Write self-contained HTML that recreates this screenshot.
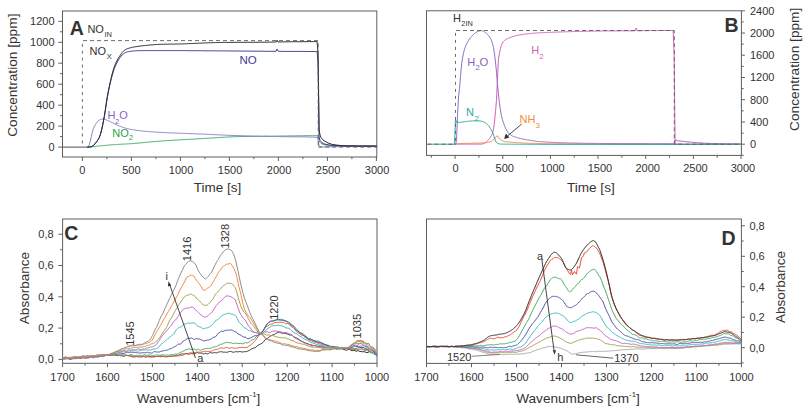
<!DOCTYPE html>
<html><head><meta charset="utf-8"><style>
html,body{margin:0;padding:0;background:#fff;}
svg{display:block;}
text{font-family:"Liberation Sans", sans-serif;}
</style></head><body>
<svg width="808" height="415" viewBox="0 0 808 415">
<rect width="808" height="415" fill="#fff"/>
<rect x="62.5" y="11" width="314.3" height="146" fill="none" stroke="#5e5e5e" stroke-width="1"/>
<line x1="58.3" y1="147.1" x2="62.5" y2="147.1" stroke="#5e5e5e" stroke-width="1" />
<line x1="60" y1="136.6" x2="62.5" y2="136.6" stroke="#5e5e5e" stroke-width="1" />
<line x1="58.3" y1="126.1" x2="62.5" y2="126.1" stroke="#5e5e5e" stroke-width="1" />
<line x1="60" y1="115.7" x2="62.5" y2="115.7" stroke="#5e5e5e" stroke-width="1" />
<line x1="58.3" y1="105.2" x2="62.5" y2="105.2" stroke="#5e5e5e" stroke-width="1" />
<line x1="60" y1="94.7" x2="62.5" y2="94.7" stroke="#5e5e5e" stroke-width="1" />
<line x1="58.3" y1="84.2" x2="62.5" y2="84.2" stroke="#5e5e5e" stroke-width="1" />
<line x1="60" y1="73.7" x2="62.5" y2="73.7" stroke="#5e5e5e" stroke-width="1" />
<line x1="58.3" y1="63.2" x2="62.5" y2="63.2" stroke="#5e5e5e" stroke-width="1" />
<line x1="60" y1="52.8" x2="62.5" y2="52.8" stroke="#5e5e5e" stroke-width="1" />
<line x1="58.3" y1="42.3" x2="62.5" y2="42.3" stroke="#5e5e5e" stroke-width="1" />
<line x1="60" y1="31.8" x2="62.5" y2="31.8" stroke="#5e5e5e" stroke-width="1" />
<line x1="58.3" y1="21.3" x2="62.5" y2="21.3" stroke="#5e5e5e" stroke-width="1" />
<text x="54.6" y="151" font-size="11" text-anchor="end" fill="#333">0</text>
<text x="54.6" y="130" font-size="11" text-anchor="end" fill="#333">200</text>
<text x="54.6" y="109.1" font-size="11" text-anchor="end" fill="#333">400</text>
<text x="54.6" y="88.1" font-size="11" text-anchor="end" fill="#333">600</text>
<text x="54.6" y="67.1" font-size="11" text-anchor="end" fill="#333">800</text>
<text x="54.6" y="46.2" font-size="11" text-anchor="end" fill="#333">1000</text>
<text x="54.6" y="25.2" font-size="11" text-anchor="end" fill="#333">1200</text>
<line x1="82.4" y1="157" x2="82.4" y2="161" stroke="#5e5e5e" stroke-width="1" />
<line x1="106.9" y1="157" x2="106.9" y2="159.2" stroke="#5e5e5e" stroke-width="1" />
<line x1="131.4" y1="157" x2="131.4" y2="161" stroke="#5e5e5e" stroke-width="1" />
<line x1="155.9" y1="157" x2="155.9" y2="159.2" stroke="#5e5e5e" stroke-width="1" />
<line x1="180.4" y1="157" x2="180.4" y2="161" stroke="#5e5e5e" stroke-width="1" />
<line x1="204.9" y1="157" x2="204.9" y2="159.2" stroke="#5e5e5e" stroke-width="1" />
<line x1="229.4" y1="157" x2="229.4" y2="161" stroke="#5e5e5e" stroke-width="1" />
<line x1="253.9" y1="157" x2="253.9" y2="159.2" stroke="#5e5e5e" stroke-width="1" />
<line x1="278.4" y1="157" x2="278.4" y2="161" stroke="#5e5e5e" stroke-width="1" />
<line x1="302.9" y1="157" x2="302.9" y2="159.2" stroke="#5e5e5e" stroke-width="1" />
<line x1="327.4" y1="157" x2="327.4" y2="161" stroke="#5e5e5e" stroke-width="1" />
<line x1="351.9" y1="157" x2="351.9" y2="159.2" stroke="#5e5e5e" stroke-width="1" />
<line x1="376.4" y1="157" x2="376.4" y2="161" stroke="#5e5e5e" stroke-width="1" />
<text x="82.4" y="173.5" font-size="11" text-anchor="middle" fill="#333">0</text>
<text x="131.4" y="173.5" font-size="11" text-anchor="middle" fill="#333">500</text>
<text x="181.1" y="173.5" font-size="11" text-anchor="middle" fill="#333">1000</text>
<text x="230.1" y="173.5" font-size="11" text-anchor="middle" fill="#333">1500</text>
<text x="279.1" y="173.5" font-size="11" text-anchor="middle" fill="#333">2000</text>
<text x="328.1" y="173.5" font-size="11" text-anchor="middle" fill="#333">2500</text>
<text x="377.1" y="173.5" font-size="11" text-anchor="middle" fill="#333">3000</text>
<path d="M87.3,147.1 L88.3,147.1 L89.3,147.1 L90.3,147 L91.3,146.9 L92.3,146.8 L93.3,146.7 L94.3,146.6 L95.3,146.5 L96.3,146.3 L97.3,146.2 L98.3,146.1 L99.3,146 L100.3,145.9 L101.3,145.8 L102.3,145.7 L103.3,145.6 L104.3,145.5 L105.3,145.4 L106.3,145.3 L107.3,145.2 L108.3,145.1 L109.3,145 L110.3,144.9 L111.3,144.8 L112.3,144.8 L113.3,144.7 L114.3,144.6 L115.3,144.6 L116.3,144.5 L117.3,144.4 L118.3,144.4 L119.3,144.3 L120.3,144.3 L121.3,144.2 L122.3,144.2 L123.3,144.1 L124.3,144.1 L125.3,144 L126.3,144 L127.3,143.9 L128.3,143.8 L129.3,143.8 L130.3,143.7 L131.3,143.7 L132.3,143.6 L133.3,143.5 L134.2,143.4 L135.2,143.3 L136.2,143.3 L137.2,143.2 L138.2,143.1 L139.2,143 L140.2,142.9 L141.2,142.8 L142.2,142.7 L143.2,142.6 L144.2,142.5 L145.2,142.4 L146.2,142.3 L147.2,142.2 L148.2,142.1 L149.2,142.1 L150.2,142 L151.2,141.9 L152.2,141.8 L153.2,141.7 L154.2,141.6 L155.2,141.5 L156.2,141.4 L157.2,141.3 L158.2,141.3 L159.2,141.2 L160.2,141.1 L161.2,141 L162.2,141 L163.2,140.9 L164.2,140.8 L165.2,140.8 L166.2,140.7 L167.2,140.6 L168.2,140.6 L169.2,140.5 L170.2,140.4 L171.2,140.4 L172.2,140.3 L173.2,140.2 L174.2,140.2 L175.2,140.1 L176.2,140.1 L177.2,140 L178.2,139.9 L179.2,139.9 L180.2,139.8 L181.2,139.8 L182.2,139.7 L183.2,139.7 L184.2,139.6 L185.2,139.5 L186.2,139.5 L187.2,139.4 L188.2,139.4 L189.2,139.3 L190.2,139.3 L191.2,139.2 L192.2,139.2 L193.2,139.1 L194.2,139 L195.2,139 L196.2,138.9 L197.2,138.9 L198.2,138.8 L199.2,138.8 L200.2,138.7 L201.2,138.6 L202.2,138.6 L203.2,138.5 L204.2,138.5 L205.2,138.4 L206.2,138.3 L207.2,138.3 L208.2,138.2 L209.2,138.2 L210.2,138.1 L211.2,138 L212.2,138 L213.2,137.9 L214.2,137.8 L215.2,137.8 L216.2,137.7 L217.2,137.6 L218.2,137.6 L219.2,137.5 L220.2,137.5 L221.2,137.4 L222.2,137.3 L223.2,137.3 L224.2,137.2 L225.2,137.2 L226.2,137.1 L227.1,137.1 L228.1,137 L229.1,137 L230.1,136.9 L231.1,136.9 L232.1,136.8 L233.1,136.8 L234.1,136.8 L235.1,136.7 L236.1,136.7 L237.1,136.7 L238.1,136.6 L239.1,136.6 L240.1,136.6 L241.1,136.6 L242.1,136.6 L243.1,136.5 L244.1,136.5 L245.1,136.5 L246.1,136.5 L247.1,136.5 L248.1,136.5 L249.1,136.4 L250.1,136.4 L251.1,136.4 L252.1,136.4 L253.1,136.4 L254.1,136.4 L255.1,136.4 L256.1,136.3 L257.1,136.3 L258.1,136.3 L259.1,136.3 L260.1,136.3 L261.1,136.3 L262.1,136.3 L263.1,136.3 L264.1,136.2 L265.1,136.2 L266.1,136.2 L267.1,136.2 L268.1,136.2 L269.1,136.2 L270.1,136.2 L271.1,136.2 L272.1,136.2 L273.1,136.2 L274.1,136.1 L275.1,136.1 L276.1,136.1 L277.1,136.1 L278.1,136.1 L279.1,136.1 L280.1,136.1 L281.1,136.1 L282.1,136 L283.1,136 L284.1,136 L285.1,136 L286.1,136 L287.1,136 L288.1,136 L289.1,135.9 L290.1,135.9 L291.1,135.9 L292.1,135.9 L293.1,135.9 L294.1,135.9 L295.1,135.9 L296.1,135.9 L297.1,135.8 L298.1,135.8 L299.1,135.8 L300.1,135.8 L301.1,135.8 L302.1,135.8 L303.1,135.8 L304.1,135.8 L305.1,135.7 L306.1,135.7 L307.1,135.7 L308.1,135.7 L309.1,135.7 L310.1,135.7 L311.1,135.7 L312.1,135.7 L313.1,135.7 L314.1,135.7 L315.1,135.7 L316.1,135.7 L317.1,135.7 L318.1,135.9 L319.1,140.4 L320,142.4 L321,143.4 L322,143.9 L323,144.3 L324,144.6 L325,144.8 L326,145 L327,145.1 L328,145.2 L329,145.3 L330,145.4 L331,145.5 L332,145.6 L333,145.7 L334,145.7 L335,145.8 L336,145.8 L337,145.8 L338,145.8 L339,145.9 L340,145.9 L341,145.9 L342,145.9 L343,145.9 L344,146 L345,146 L346,146 L347,146 L348,146 L349,146 L350,146.1 L351,146.1 L352,146.1 L353,146.1 L354,146.1 L355,146.1 L356,146.1 L357,146.2 L358,146.2 L359,146.2 L360,146.2 L361,146.2 L362,146.2 L363,146.2 L364,146.2 L365,146.2 L366,146.2 L367,146.2 L368,146.2 L369,146.2 L370,146.2 L371,146.3 L372,146.3 L373,146.3 L374,146.3 L375,146.3 L376,146.3 L377,146.3" fill="none" stroke="#44ad6c" stroke-width="1.0" stroke-linejoin="round" />
<path d="M87.3,147.1 L88.3,146.9 L89.3,144.6 L90.3,141 L91.3,136.6 L92.3,132.4 L93.3,128.8 L94.3,126.6 L95.3,124.8 L96.3,123.3 L97.3,121.8 L98.3,120.7 L99.3,120.1 L100.3,119.6 L101.3,119.3 L102.3,119 L103.3,119 L104.3,119.2 L105.3,119.5 L106.3,119.9 L107.3,120.3 L108.3,120.7 L109.3,121.2 L110.3,121.7 L111.3,122.2 L112.3,122.7 L113.3,123.3 L114.3,123.8 L115.3,124.3 L116.3,124.7 L117.3,125.1 L118.3,125.6 L119.3,126 L120.3,126.4 L121.3,126.7 L122.3,127.1 L123.3,127.5 L124.3,127.8 L125.3,128.1 L126.3,128.4 L127.3,128.7 L128.3,128.9 L129.3,129.1 L130.3,129.3 L131.3,129.5 L132.3,129.6 L133.3,129.8 L134.2,130 L135.2,130.1 L136.2,130.3 L137.2,130.4 L138.2,130.5 L139.2,130.6 L140.2,130.7 L141.2,130.9 L142.2,131 L143.2,131.1 L144.2,131.2 L145.2,131.3 L146.2,131.3 L147.2,131.4 L148.2,131.5 L149.2,131.6 L150.2,131.7 L151.2,131.8 L152.2,131.8 L153.2,131.9 L154.2,132 L155.2,132.1 L156.2,132.1 L157.2,132.2 L158.2,132.2 L159.2,132.3 L160.2,132.4 L161.2,132.4 L162.2,132.5 L163.2,132.5 L164.2,132.6 L165.2,132.6 L166.2,132.7 L167.2,132.7 L168.2,132.8 L169.2,132.8 L170.2,132.9 L171.2,132.9 L172.2,132.9 L173.2,133 L174.2,133 L175.2,133.1 L176.2,133.1 L177.2,133.1 L178.2,133.2 L179.2,133.2 L180.2,133.2 L181.2,133.3 L182.2,133.3 L183.2,133.4 L184.2,133.4 L185.2,133.4 L186.2,133.5 L187.2,133.5 L188.2,133.5 L189.2,133.6 L190.2,133.6 L191.2,133.7 L192.2,133.7 L193.2,133.7 L194.2,133.8 L195.2,133.8 L196.2,133.8 L197.2,133.9 L198.2,133.9 L199.2,134 L200.2,134 L201.2,134 L202.2,134.1 L203.2,134.1 L204.2,134.2 L205.2,134.2 L206.2,134.3 L207.2,134.3 L208.2,134.4 L209.2,134.4 L210.2,134.5 L211.2,134.5 L212.2,134.5 L213.2,134.6 L214.2,134.6 L215.2,134.7 L216.2,134.7 L217.2,134.8 L218.2,134.8 L219.2,134.9 L220.2,134.9 L221.2,135 L222.2,135 L223.2,135.1 L224.2,135.1 L225.2,135.1 L226.2,135.2 L227.1,135.2 L228.1,135.3 L229.1,135.3 L230.1,135.4 L231.1,135.4 L232.1,135.4 L233.1,135.5 L234.1,135.5 L235.1,135.5 L236.1,135.6 L237.1,135.6 L238.1,135.6 L239.1,135.7 L240.1,135.7 L241.1,135.7 L242.1,135.8 L243.1,135.8 L244.1,135.8 L245.1,135.8 L246.1,135.9 L247.1,135.9 L248.1,135.9 L249.1,136 L250.1,136 L251.1,136 L252.1,136 L253.1,136.1 L254.1,136.1 L255.1,136.1 L256.1,136.1 L257.1,136.2 L258.1,136.2 L259.1,136.2 L260.1,136.2 L261.1,136.2 L262.1,136.3 L263.1,136.3 L264.1,136.3 L265.1,136.3 L266.1,136.4 L267.1,136.4 L268.1,136.4 L269.1,136.4 L270.1,136.4 L271.1,136.5 L272.1,136.5 L273.1,136.5 L274.1,136.5 L275.1,136.5 L276.1,136.6 L277.1,136.6 L278.1,136.6 L279.1,136.6 L280.1,136.6 L281.1,136.7 L282.1,136.7 L283.1,136.7 L284.1,136.7 L285.1,136.7 L286.1,136.7 L287.1,136.7 L288.1,136.7 L289.1,136.8 L290.1,136.8 L291.1,136.8 L292.1,136.8 L293.1,136.8 L294.1,136.8 L295.1,136.8 L296.1,136.8 L297.1,136.8 L298.1,136.8 L299.1,136.8 L300.1,136.8 L301.1,136.8 L302.1,136.9 L303.1,136.9 L304.1,136.9 L305.1,136.9 L306.1,136.9 L307.1,137 L308.1,137 L309.1,137 L310.1,137 L311.1,137.1 L312.1,137.1 L313.1,137.1 L314.1,137.2 L315.1,137.2 L316.1,137.3 L317.1,137.3 L318.1,139.8 L319.1,146.1 L320,146.6 L321,146.8 L322,146.9 L323,146.9 L324,146.9 L325,146.9 L326,146.8 L327,146.8 L328,146.8 L329,146.8 L330,146.7 L331,146.7 L332,146.7 L333,146.7 L334,146.7 L335,146.7 L336,146.6 L337,146.6 L338,146.6 L339,146.6 L340,146.6 L341,146.6 L342,146.5 L343,146.5 L344,146.5 L345,146.5 L346,146.5 L347,146.5 L348,146.5 L349,146.5 L350,146.4 L351,146.4 L352,146.4 L353,146.4 L354,146.4 L355,146.4 L356,146.4 L357,146.4 L358,146.4 L359,146.4 L360,146.4 L361,146.3 L362,146.3 L363,146.3 L364,146.3 L365,146.3 L366,146.3 L367,146.3 L368,146.3 L369,146.3 L370,146.3 L371,146.3 L372,146.3 L373,146.3 L374,146.3 L375,146.3 L376,146.3 L377,146.3" fill="none" stroke="#9680c4" stroke-width="1.0" stroke-linejoin="round" />
<path d="M87.3,147.1 L88.3,147.1 L89.3,147 L90.3,146.8 L91.3,146.6 L92.3,146.2 L93.3,145.6 L94.3,144.5 L95.3,143.3 L96.3,142.1 L97.3,140.8 L98.3,139.3 L99.3,137.4 L100.3,134.8 L101.3,131.1 L102.3,126.8 L103.3,121.9 L104.3,116.4 L105.3,110.4 L106.3,103.6 L107.3,97.7 L108.3,92.2 L109.3,87.2 L110.3,82.8 L111.3,78.7 L112.3,74.9 L113.3,71.5 L114.3,68.5 L115.3,66.1 L116.3,63.9 L117.3,62 L118.3,60.2 L119.3,58.6 L120.3,57.2 L121.3,56 L122.3,54.9 L123.3,53.9 L124.3,53.2 L125.3,52.7 L126.3,52.3 L127.3,51.9 L128.3,51.7 L129.3,51.5 L130.3,51.3 L131.3,51.2 L132.3,51.1 L133.3,51 L134.2,50.9 L135.2,50.8 L136.2,50.8 L137.2,50.7 L138.2,50.7 L139.2,50.7 L140.2,50.7 L141.2,50.6 L142.2,50.6 L143.2,50.6 L144.2,50.6 L145.2,50.6 L146.2,50.6 L147.2,50.6 L148.2,50.6 L149.2,50.6 L150.2,50.6 L151.2,50.6 L152.2,50.6 L153.2,50.6 L154.2,50.6 L155.2,50.6 L156.2,50.6 L157.2,50.6 L158.2,50.6 L159.2,50.6 L160.2,50.6 L161.2,50.6 L162.2,50.6 L163.2,50.6 L164.2,50.6 L165.2,50.6 L166.2,50.6 L167.2,50.6 L168.2,50.6 L169.2,50.6 L170.2,50.6 L171.2,50.6 L172.2,50.6 L173.2,50.6 L174.2,50.6 L175.2,50.6 L176.2,50.6 L177.2,50.6 L178.2,50.6 L179.2,50.6 L180.2,50.6 L181.2,50.6 L182.2,50.6 L183.2,50.6 L184.2,50.6 L185.2,50.6 L186.2,50.6 L187.2,50.6 L188.2,50.7 L189.2,50.7 L190.2,50.7 L191.2,50.7 L192.2,50.7 L193.2,50.7 L194.2,50.7 L195.2,50.7 L196.2,50.7 L197.2,50.7 L198.2,50.7 L199.2,50.7 L200.2,50.7 L201.2,50.7 L202.2,50.7 L203.2,50.8 L204.2,50.8 L205.2,50.8 L206.2,50.8 L207.2,50.8 L208.2,50.8 L209.2,50.8 L210.2,50.8 L211.2,50.8 L212.2,50.8 L213.2,50.8 L214.2,50.8 L215.2,50.8 L216.2,50.8 L217.2,50.9 L218.2,50.9 L219.2,50.9 L220.2,50.9 L221.2,50.9 L222.2,50.9 L223.2,50.9 L224.2,50.9 L225.2,50.9 L226.2,50.9 L227.1,50.9 L228.1,50.9 L229.1,50.9 L230.1,50.9 L231.1,51 L232.1,51 L233.1,51 L234.1,51 L235.1,51 L236.1,51 L237.1,51 L238.1,51 L239.1,51 L240.1,51 L241.1,51.1 L242.1,51.1 L243.1,51.1 L244.1,51.1 L245.1,51.1 L246.1,51.1 L247.1,51.1 L248.1,51.1 L249.1,51.1 L250.1,51.1 L251.1,51.1 L252.1,51.2 L253.1,51.2 L254.1,51.2 L255.1,51.2 L256.1,51.2 L257.1,51.2 L258.1,51.2 L259.1,51.2 L260.1,51.2 L261.1,51.2 L262.1,51.2 L263.1,51.2 L264.1,51.2 L265.1,51.3 L266.1,51.3 L267.1,51.3 L268.1,51.3 L269.1,51.3 L270.1,51.3 L271.1,51.3 L272.1,51.3 L273.1,51.3 L274.1,51.3 L275.1,51.3 L276.1,51.3 L277.1,49.1 L278.1,50.9 L279.1,51.3 L280.1,51.3 L281.1,51.3 L282.1,51.4 L283.1,51.4 L284.1,51.4 L285.1,51.4 L286.1,51.4 L287.1,51.4 L288.1,51.4 L289.1,51.4 L290.1,51.4 L291.1,51.4 L292.1,51.4 L293.1,51.4 L294.1,51.4 L295.1,51.4 L296.1,51.4 L297.1,51.4 L298.1,51.4 L299.1,51.4 L300.1,51.4 L301.1,51.4 L302.1,51.4 L303.1,51.4 L304.1,51.4 L305.1,51.4 L306.1,51.5 L307.1,51.5 L308.1,51.5 L309.1,51.5 L310.1,51.5 L311.1,51.5 L312.1,51.5 L313.1,51.5 L314.1,51.5 L315.1,51.5 L316.1,51.6 L317.1,51.6 L318.1,64.1 L319.1,137 L320,140.4 L321,141.8 L322,142.7 L323,143.3 L324,143.8 L325,144.2 L326,144.4 L327,144.6 L328,144.8 L329,144.9 L330,145.1 L331,145.2 L332,145.3 L333,145.3 L334,145.4 L335,145.5 L336,145.5 L337,145.6 L338,145.6 L339,145.7 L340,145.7 L341,145.8 L342,145.8 L343,145.8 L344,145.9 L345,145.9 L346,145.9 L347,145.9 L348,146 L349,146 L350,146 L351,146 L352,146 L353,146 L354,146 L355,146 L356,146 L357,146.1 L358,146.1 L359,146.1 L360,146.1 L361,146.1 L362,146.1 L363,146.1 L364,146.1 L365,146.1 L366,146.1 L367,146.1 L368,146.1 L369,146.1 L370,146.1 L371,146.1 L372,146.1 L373,146.2 L374,146.2 L375,146.2 L376,146.2 L377,146.2" fill="none" stroke="#3c3c98" stroke-width="1.0" stroke-linejoin="round" />
<path d="M87.3,147.1 L88.3,147.1 L89.3,147 L90.3,146.8 L91.3,146.6 L92.3,146.2 L93.3,145.6 L94.3,144.5 L95.3,143.3 L96.3,142.1 L97.3,140.8 L98.3,139.3 L99.3,137.4 L100.3,134.8 L101.3,131.1 L102.3,126.8 L103.3,122 L104.3,116.5 L105.3,110.2 L106.3,102.9 L107.3,96.7 L108.3,91.3 L109.3,86.4 L110.3,81.9 L111.3,77.5 L112.3,73.5 L113.3,69.9 L114.3,66.9 L115.3,64.4 L116.3,62.2 L117.3,60.2 L118.3,58.3 L119.3,56.7 L120.3,55.2 L121.3,53.8 L122.3,52.4 L123.3,51.3 L124.3,50.3 L125.3,49.7 L126.3,49.2 L127.3,48.7 L128.3,48.4 L129.3,48.1 L130.3,47.8 L131.3,47.6 L132.3,47.3 L133.3,47.1 L134.2,47 L135.2,46.8 L136.2,46.6 L137.2,46.5 L138.2,46.3 L139.2,46.2 L140.2,46.1 L141.2,45.9 L142.2,45.8 L143.2,45.7 L144.2,45.6 L145.2,45.5 L146.2,45.4 L147.2,45.3 L148.2,45.2 L149.2,45.1 L150.2,45 L151.2,44.9 L152.2,44.9 L153.2,44.8 L154.2,44.7 L155.2,44.6 L156.2,44.5 L157.2,44.5 L158.2,44.4 L159.2,44.4 L160.2,44.3 L161.2,44.3 L162.2,44.3 L163.2,44.3 L164.2,44.2 L165.2,44.2 L166.2,44.2 L167.2,44.2 L168.2,44.2 L169.2,44.1 L170.2,44.1 L171.2,44.1 L172.2,44.1 L173.2,44.1 L174.2,44.1 L175.2,44 L176.2,44 L177.2,44 L178.2,44 L179.2,44 L180.2,43.9 L181.2,43.9 L182.2,43.9 L183.2,43.9 L184.2,43.8 L185.2,43.8 L186.2,43.8 L187.2,43.7 L188.2,43.7 L189.2,43.6 L190.2,43.6 L191.2,43.6 L192.2,43.5 L193.2,43.5 L194.2,43.4 L195.2,43.4 L196.2,43.3 L197.2,43.3 L198.2,43.2 L199.2,43.2 L200.2,43.2 L201.2,43.1 L202.2,43.1 L203.2,43 L204.2,43 L205.2,42.9 L206.2,42.9 L207.2,42.9 L208.2,42.8 L209.2,42.8 L210.2,42.7 L211.2,42.7 L212.2,42.7 L213.2,42.6 L214.2,42.6 L215.2,42.6 L216.2,42.6 L217.2,42.5 L218.2,42.5 L219.2,42.5 L220.2,42.5 L221.2,42.5 L222.2,42.4 L223.2,42.4 L224.2,42.4 L225.2,42.4 L226.2,42.4 L227.1,42.4 L228.1,42.4 L229.1,42.4 L230.1,42.4 L231.1,42.4 L232.1,42.4 L233.1,42.4 L234.1,42.3 L235.1,42.3 L236.1,42.3 L237.1,42.3 L238.1,42.3 L239.1,42.3 L240.1,42.3 L241.1,42.3 L242.1,42.3 L243.1,42.3 L244.1,42.3 L245.1,42.3 L246.1,42.3 L247.1,42.3 L248.1,42.3 L249.1,42.3 L250.1,42.3 L251.1,42.3 L252.1,42.3 L253.1,42.3 L254.1,42.3 L255.1,42.3 L256.1,42.3 L257.1,42.3 L258.1,42.3 L259.1,42.2 L260.1,42.2 L261.1,42.2 L262.1,42.2 L263.1,42.2 L264.1,42.2 L265.1,42.2 L266.1,42.2 L267.1,42.2 L268.1,42.1 L269.1,42.1 L270.1,42.1 L271.1,42.1 L272.1,42.1 L273.1,42 L274.1,42 L275.1,42 L276.1,42 L277.1,40.2 L278.1,42 L279.1,41.9 L280.1,41.9 L281.1,41.9 L282.1,41.9 L283.1,41.9 L284.1,41.8 L285.1,41.8 L286.1,41.8 L287.1,41.8 L288.1,41.8 L289.1,41.8 L290.1,41.8 L291.1,41.7 L292.1,41.7 L293.1,41.7 L294.1,41.7 L295.1,41.7 L296.1,41.7 L297.1,41.7 L298.1,41.7 L299.1,41.7 L300.1,41.7 L301.1,41.7 L302.1,41.7 L303.1,41.7 L304.1,41.7 L305.1,41.7 L306.1,41.7 L307.1,41.6 L308.1,41.6 L309.1,41.6 L310.1,41.6 L311.1,41.6 L312.1,41.6 L313.1,41.6 L314.1,41.6 L315.1,41.6 L316.1,41.6 L317.1,41.6 L318.1,53.9 L319.1,129.3 L320,135 L321,137.5 L322,138.9 L323,139.9 L324,140.7 L325,141.3 L326,141.9 L327,142.4 L328,142.9 L329,143.3 L330,143.7 L331,144 L332,144.3 L333,144.5 L334,144.7 L335,144.8 L336,145 L337,145.1 L338,145.2 L339,145.3 L340,145.5 L341,145.5 L342,145.6 L343,145.7 L344,145.8 L345,145.8 L346,145.8 L347,145.8 L348,145.9 L349,145.9 L350,145.9 L351,145.9 L352,145.9 L353,145.9 L354,145.9 L355,145.9 L356,146 L357,146 L358,146 L359,146 L360,146 L361,146 L362,146 L363,146 L364,146 L365,146 L366,146 L367,146 L368,146 L369,146 L370,146 L371,146 L372,146 L373,146 L374,146 L375,146.1 L376,146.1 L377,146.1" fill="none" stroke="#2c2c2c" stroke-width="1.0" stroke-linejoin="round" />
<path d="M83,40.6 L318.2,40.6 L318.2,147.1" fill="none" stroke="#5c5c5c" stroke-width="0.9" stroke-linejoin="round" stroke-dasharray="4 3"/>
<path d="M82.4,43.8 L82.4,147.1" fill="none" stroke="#5c5c5c" stroke-width="0.9" stroke-linejoin="round" stroke-dasharray="3 3.9"/>
<path d="M318.2,147.1 L376.8,147.1" fill="none" stroke="#5c5c5c" stroke-width="0.9" stroke-linejoin="round" stroke-dasharray="4 3"/>
<path d="M62.5,147.1 L87.5,147.1" fill="none" stroke="#505050" stroke-width="1.0" stroke-linejoin="round" />
<text x="69.8" y="35.2" font-size="19.5" text-anchor="start" fill="#333" font-weight="bold">A</text>
<text x="87.4" y="32.8" font-size="11" text-anchor="start" fill="#333">NO</text>
<text x="104.5" y="37.1" font-size="7.5" text-anchor="start" fill="#333">IN</text>
<text x="89.6" y="54.7" font-size="11" text-anchor="start" fill="#333">NO</text>
<text x="106.8" y="58.6" font-size="7.6" text-anchor="start" fill="#333">X</text>
<text x="239.4" y="64" font-size="11.5" text-anchor="start" fill="#3c3c98">NO</text>
<text x="107.6" y="118.7" font-size="11" text-anchor="start" fill="#8a64c0">H</text>
<text x="114.9" y="123.5" font-size="7.8" text-anchor="start" fill="#8a64c0">2</text>
<text x="119.2" y="118.7" font-size="11" text-anchor="start" fill="#8a64c0">O</text>
<text x="112.2" y="136.8" font-size="11" text-anchor="start" fill="#30a050">NO</text>
<text x="128.8" y="140.4" font-size="7.8" text-anchor="start" fill="#30a050">2</text>
<text x="217.6" y="192" font-size="13.5" text-anchor="middle" fill="#333">Time [s]</text>
<text x="16.7" y="75.2" font-size="13.7" text-anchor="middle" fill="#333" transform="rotate(-90 16.7 75.2)">Concentration [ppm]</text>
<rect x="426.5" y="10.8" width="314.9" height="144.6" fill="none" stroke="#5e5e5e" stroke-width="1"/>
<line x1="741.4" y1="155.3" x2="743.7" y2="155.3" stroke="#5e5e5e" stroke-width="1" />
<line x1="741.4" y1="144.2" x2="744.9" y2="144.2" stroke="#5e5e5e" stroke-width="1" />
<line x1="741.4" y1="133.1" x2="743.7" y2="133.1" stroke="#5e5e5e" stroke-width="1" />
<line x1="741.4" y1="122" x2="744.9" y2="122" stroke="#5e5e5e" stroke-width="1" />
<line x1="741.4" y1="110.8" x2="743.7" y2="110.8" stroke="#5e5e5e" stroke-width="1" />
<line x1="741.4" y1="99.7" x2="744.9" y2="99.7" stroke="#5e5e5e" stroke-width="1" />
<line x1="741.4" y1="88.6" x2="743.7" y2="88.6" stroke="#5e5e5e" stroke-width="1" />
<line x1="741.4" y1="77.5" x2="744.9" y2="77.5" stroke="#5e5e5e" stroke-width="1" />
<line x1="741.4" y1="66.4" x2="743.7" y2="66.4" stroke="#5e5e5e" stroke-width="1" />
<line x1="741.4" y1="55.2" x2="744.9" y2="55.2" stroke="#5e5e5e" stroke-width="1" />
<line x1="741.4" y1="44.1" x2="743.7" y2="44.1" stroke="#5e5e5e" stroke-width="1" />
<line x1="741.4" y1="33" x2="744.9" y2="33" stroke="#5e5e5e" stroke-width="1" />
<line x1="741.4" y1="21.9" x2="743.7" y2="21.9" stroke="#5e5e5e" stroke-width="1" />
<line x1="741.4" y1="10.8" x2="744.9" y2="10.8" stroke="#5e5e5e" stroke-width="1" />
<text x="749.9" y="148.1" font-size="11" text-anchor="start" fill="#333">0</text>
<text x="749.9" y="125.9" font-size="11" text-anchor="start" fill="#333">400</text>
<text x="749.9" y="103.6" font-size="11" text-anchor="start" fill="#333">800</text>
<text x="749.9" y="81.4" font-size="11" text-anchor="start" fill="#333">1200</text>
<text x="749.9" y="59.1" font-size="11" text-anchor="start" fill="#333">1600</text>
<text x="749.9" y="36.9" font-size="11" text-anchor="start" fill="#333">2000</text>
<text x="749.9" y="14.7" font-size="11" text-anchor="start" fill="#333">2400</text>
<line x1="431.3" y1="155.4" x2="431.3" y2="157.7" stroke="#5e5e5e" stroke-width="1" />
<line x1="455.1" y1="155.4" x2="455.1" y2="158.9" stroke="#5e5e5e" stroke-width="1" />
<line x1="478.9" y1="155.4" x2="478.9" y2="157.7" stroke="#5e5e5e" stroke-width="1" />
<line x1="502.8" y1="155.4" x2="502.8" y2="158.9" stroke="#5e5e5e" stroke-width="1" />
<line x1="526.6" y1="155.4" x2="526.6" y2="157.7" stroke="#5e5e5e" stroke-width="1" />
<line x1="550.4" y1="155.4" x2="550.4" y2="158.9" stroke="#5e5e5e" stroke-width="1" />
<line x1="574.2" y1="155.4" x2="574.2" y2="157.7" stroke="#5e5e5e" stroke-width="1" />
<line x1="598" y1="155.4" x2="598" y2="158.9" stroke="#5e5e5e" stroke-width="1" />
<line x1="621.9" y1="155.4" x2="621.9" y2="157.7" stroke="#5e5e5e" stroke-width="1" />
<line x1="645.7" y1="155.4" x2="645.7" y2="158.9" stroke="#5e5e5e" stroke-width="1" />
<line x1="669.5" y1="155.4" x2="669.5" y2="157.7" stroke="#5e5e5e" stroke-width="1" />
<line x1="693.4" y1="155.4" x2="693.4" y2="158.9" stroke="#5e5e5e" stroke-width="1" />
<line x1="717.2" y1="155.4" x2="717.2" y2="157.7" stroke="#5e5e5e" stroke-width="1" />
<line x1="741" y1="155.4" x2="741" y2="158.9" stroke="#5e5e5e" stroke-width="1" />
<text x="455.5" y="172.4" font-size="11" text-anchor="middle" fill="#333">0</text>
<text x="504.8" y="172.4" font-size="11" text-anchor="middle" fill="#333">500</text>
<text x="552.4" y="172.4" font-size="11" text-anchor="middle" fill="#333">1000</text>
<text x="600" y="172.4" font-size="11" text-anchor="middle" fill="#333">1500</text>
<text x="647.7" y="172.4" font-size="11" text-anchor="middle" fill="#333">2000</text>
<text x="695.4" y="172.4" font-size="11" text-anchor="middle" fill="#333">2500</text>
<text x="743" y="172.4" font-size="11" text-anchor="middle" fill="#333">3000</text>
<path d="M454.5,144.2 L455.5,144 L456.5,143.7 L457.5,143.6 L458.5,143.6 L459.5,143.5 L460.5,143.5 L461.5,143.5 L462.5,143.5 L463.5,143.4 L464.5,143.4 L465.5,143.4 L466.5,143.4 L467.5,143.4 L468.5,143.3 L469.5,143.3 L470.5,143.3 L471.5,143.3 L472.5,143.2 L473.5,143.2 L474.5,143.2 L475.5,143.2 L476.5,143.1 L477.5,143.1 L478.5,143.1 L479.5,143 L480.5,143 L481.5,142.9 L482.5,142.9 L483.5,142.8 L484.5,142.7 L485.5,142.7 L486.5,142.5 L487.5,142.4 L488.5,142.2 L489.5,141.9 L490.5,141.7 L491.5,141.4 L492.5,140.7 L493.5,139.8 L494.5,138.8 L495.5,137.7 L496.5,136.4 L497.4,135.8 L498.4,137.1 L499.4,138.7 L500.4,139.7 L501.4,140.4 L502.4,140.8 L503.4,141.2 L504.4,141.5 L505.4,141.7 L506.4,141.8 L507.4,141.9 L508.4,142 L509.4,142.1 L510.4,142.2 L511.4,142.2 L512.4,142.3 L513.4,142.4 L514.4,142.4 L515.4,142.5 L516.4,142.6 L517.4,142.7 L518.4,142.7 L519.4,142.8 L520.4,142.9 L521.4,142.9 L522.4,143 L523.4,143 L524.4,143.1 L525.4,143.1 L526.4,143.2 L527.4,143.2 L528.4,143.3 L529.4,143.3 L530.4,143.3 L531.4,143.3 L532.4,143.4 L533.4,143.4 L534.4,143.4 L535.4,143.4 L536.4,143.5 L537.4,143.5 L538.4,143.5 L539.4,143.5 L540.4,143.5 L541.4,143.5 L542.4,143.6 L543.4,143.6 L544.4,143.6 L545.4,143.6 L546.4,143.6 L547.4,143.6 L548.4,143.6 L549.4,143.6 L550.4,143.6 L551.3,143.7 L552.3,143.7 L553.3,143.7 L554.3,143.7 L555.3,143.7 L556.3,143.7 L557.3,143.7 L558.3,143.7 L559.3,143.7 L560.3,143.7 L561.3,143.7 L562.3,143.7 L563.3,143.7 L564.3,143.8 L565.3,143.8 L566.3,143.8 L567.3,143.8 L568.3,143.8 L569.3,143.8 L570.3,143.8 L571.3,143.8 L572.3,143.8 L573.3,143.8 L574.3,143.8 L575.3,143.8 L576.3,143.8 L577.3,143.8 L578.3,143.8 L579.3,143.8 L580.3,143.8 L581.3,143.8 L582.3,143.9 L583.3,143.9 L584.3,143.9 L585.3,143.9 L586.3,143.9 L587.3,143.9 L588.3,143.9 L589.3,143.9 L590.3,143.9 L591.3,143.9 L592.3,143.9 L593.3,143.9 L594.3,143.9 L595.3,143.9 L596.3,143.9 L597.3,143.9 L598.3,143.9 L599.3,143.9 L600.3,143.9 L601.3,143.9 L602.3,143.9 L603.3,143.9 L604.3,144 L605.3,144 L606.2,144 L607.2,144 L608.2,144 L609.2,144 L610.2,144 L611.2,144 L612.2,144 L613.2,144 L614.2,144 L615.2,144 L616.2,144 L617.2,144 L618.2,144 L619.2,144 L620.2,144 L621.2,144 L622.2,144 L623.2,144 L624.2,144 L625.2,144.1 L626.2,144.1 L627.2,144.1 L628.2,144.1 L629.2,144.1 L630.2,144.1 L631.2,144.1 L632.2,144.1 L633.2,144.1 L634.2,144.1 L635.2,144.1 L636.2,144.1 L637.2,144.1 L638.2,144.1 L639.2,144.1 L640.2,144.1 L641.2,144.1 L642.2,144.1 L643.2,144.1 L644.2,144.1 L645.2,144.1 L646.2,144.1 L647.2,144.1 L648.2,144.2 L649.2,144.2 L650.2,144.2 L651.2,144.2 L652.2,144.2 L653.2,144.2 L654.2,144.2 L655.2,144.2 L656.2,144.2 L657.2,144.2 L658.2,144.2 L659.2,144.2 L660.1,144.2 L661.1,144.2 L662.1,144.2 L663.1,144.2 L664.1,144.2 L665.1,144.2 L666.1,144.2 L667.1,144.2 L668.1,144.2 L669.1,144.2 L670.1,144.2 L671.1,144.2 L672.1,144.2 L673.1,144.2 L674.1,144.2 L675.1,144.2 L676.1,144.2 L677.1,144.2 L678.1,144.2 L679.1,144.2 L680.1,144.2 L681.1,144.2 L682.1,144.2 L683.1,144.2 L684.1,144.2 L685.1,144.2 L686.1,144.2 L687.1,144.2 L688.1,144.2 L689.1,144.2 L690.1,144.2 L691.1,144.2 L692.1,144.2 L693.1,144.2 L694.1,144.2 L695.1,144.2 L696.1,144.2 L697.1,144.2 L698.1,144.2 L699.1,144.2 L700.1,144.2 L701.1,144.2 L702.1,144.2 L703.1,144.2 L704.1,144.2 L705.1,144.2 L706.1,144.2 L707.1,144.2 L708.1,144.2 L709.1,144.2 L710.1,144.2 L711.1,144.2 L712.1,144.2 L713.1,144.2 L714,144.2 L715,144.2 L716,144.2 L717,144.2 L718,144.2 L719,144.2 L720,144.2 L721,144.2 L722,144.2 L723,144.2 L724,144.2 L725,144.2 L726,144.2 L727,144.2 L728,144.2 L729,144.2 L730,144.2 L731,144.2 L732,144.2 L733,144.2 L734,144.2 L735,144.2 L736,144.2 L737,144.2 L738,144.2 L739,144.2 L740,144.2 L741,144.2" fill="none" stroke="#f28c3c" stroke-width="1.0" stroke-linejoin="round" />
<path d="M454.5,144.2 L455.5,144.2 L456.5,144.2 L457.5,144.2 L458.5,144.2 L459.5,144.2 L460.5,144.2 L461.5,144.2 L462.5,144.2 L463.5,144.2 L464.5,144.2 L465.5,144.2 L466.5,144.2 L467.5,144.2 L468.5,144.2 L469.5,144.2 L470.5,144.2 L471.5,144.2 L472.5,144.2 L473.5,144.2 L474.5,144.2 L475.5,144.2 L476.5,144.2 L477.5,144.2 L478.5,144.2 L479.5,144.2 L480.5,144.2 L481.5,144.1 L482.5,143.9 L483.5,143.8 L484.5,143.4 L485.5,142.6 L486.5,141.7 L487.5,140.8 L488.5,139.8 L489.5,138.6 L490.5,137.2 L491.5,135.5 L492.5,133.2 L493.5,129.4 L494.5,121.6 L495.5,111.8 L496.5,99.8 L497.4,80.6 L498.4,59.3 L499.4,53.7 L500.4,48.6 L501.4,45.4 L502.4,43.2 L503.4,41.6 L504.4,40.6 L505.4,39.8 L506.4,39.2 L507.4,38.7 L508.4,38.2 L509.4,37.8 L510.4,37.4 L511.4,37.1 L512.4,36.7 L513.4,36.4 L514.4,36.1 L515.4,35.9 L516.4,35.6 L517.4,35.4 L518.4,35.2 L519.4,35 L520.4,34.8 L521.4,34.7 L522.4,34.5 L523.4,34.3 L524.4,34.2 L525.4,34.1 L526.4,33.9 L527.4,33.8 L528.4,33.7 L529.4,33.6 L530.4,33.5 L531.4,33.4 L532.4,33.3 L533.4,33.2 L534.4,33.1 L535.4,33 L536.4,33 L537.4,32.9 L538.4,32.9 L539.4,32.8 L540.4,32.7 L541.4,32.7 L542.4,32.7 L543.4,32.6 L544.4,32.6 L545.4,32.5 L546.4,32.5 L547.4,32.4 L548.4,32.4 L549.4,32.4 L550.4,32.3 L551.3,32.3 L552.3,32.3 L553.3,32.2 L554.3,32.2 L555.3,32.1 L556.3,32.1 L557.3,32.1 L558.3,32 L559.3,32 L560.3,32 L561.3,31.9 L562.3,31.9 L563.3,31.9 L564.3,31.8 L565.3,31.8 L566.3,31.8 L567.3,31.7 L568.3,31.7 L569.3,31.7 L570.3,31.6 L571.3,31.6 L572.3,31.6 L573.3,31.6 L574.3,31.5 L575.3,31.5 L576.3,31.5 L577.3,31.5 L578.3,31.4 L579.3,31.4 L580.3,31.4 L581.3,31.4 L582.3,31.3 L583.3,31.3 L584.3,31.3 L585.3,31.3 L586.3,31.2 L587.3,31.2 L588.3,31.2 L589.3,31.2 L590.3,31.2 L591.3,31.1 L592.3,31.1 L593.3,31.1 L594.3,31.1 L595.3,31.1 L596.3,31 L597.3,31 L598.3,31 L599.3,31 L600.3,31 L601.3,31 L602.3,30.9 L603.3,30.9 L604.3,30.9 L605.3,30.9 L606.2,30.9 L607.2,30.9 L608.2,30.9 L609.2,30.9 L610.2,30.9 L611.2,30.9 L612.2,30.9 L613.2,30.9 L614.2,30.9 L615.2,30.9 L616.2,30.9 L617.2,30.9 L618.2,30.9 L619.2,30.9 L620.2,30.9 L621.2,30.8 L622.2,30.8 L623.2,30.8 L624.2,30.8 L625.2,30.8 L626.2,30.8 L627.2,30.8 L628.2,30.8 L629.2,30.8 L630.2,30.8 L631.2,30.8 L632.2,30.8 L633.2,30.8 L634.2,30.8 L635.2,30.8 L636.2,28 L637.2,30.8 L638.2,30.8 L639.2,30.8 L640.2,30.8 L641.2,30.7 L642.2,30.7 L643.2,30.7 L644.2,30.7 L645.2,30.7 L646.2,30.7 L647.2,30.7 L648.2,30.6 L649.2,30.6 L650.2,30.6 L651.2,30.6 L652.2,30.6 L653.2,30.6 L654.2,30.6 L655.2,30.6 L656.2,30.6 L657.2,30.6 L658.2,30.6 L659.2,30.6 L660.1,30.5 L661.1,30.5 L662.1,30.5 L663.1,30.5 L664.1,30.5 L665.1,30.5 L666.1,30.5 L667.1,30.5 L668.1,30.5 L669.1,30.5 L670.1,30.5 L671.1,30.5 L672.1,30.5 L673.1,30.5 L674.1,53.1 L675.1,143.1 L676.1,143.9 L677.1,144 L678.1,144 L679.1,144 L680.1,144.1 L681.1,144.1 L682.1,144.1 L683.1,144.1 L684.1,144.1 L685.1,144.2 L686.1,144.2 L687.1,144.2 L688.1,144.2 L689.1,144.2 L690.1,144.2 L691.1,144.2 L692.1,144.2 L693.1,144.2 L694.1,144.2 L695.1,144.2 L696.1,144.2 L697.1,144.2 L698.1,144.2 L699.1,144.2 L700.1,144.2 L701.1,144.2 L702.1,144.2 L703.1,144.2 L704.1,144.2 L705.1,144.2 L706.1,144.2 L707.1,144.2 L708.1,144.2 L709.1,144.2 L710.1,144.2 L711.1,144.2 L712.1,144.2 L713.1,144.2 L714,144.2 L715,144.2 L716,144.2 L717,144.2 L718,144.2 L719,144.2 L720,144.2 L721,144.2 L722,144.2 L723,144.2 L724,144.2 L725,144.2 L726,144.2 L727,144.2 L728,144.2 L729,144.2 L730,144.2 L731,144.2 L732,144.2 L733,144.2 L734,144.2 L735,144.2 L736,144.2 L737,144.2 L738,144.2 L739,144.2 L740,144.2 L741,144.2" fill="none" stroke="#d262b6" stroke-width="1.0" stroke-linejoin="round" />
<path d="M454.5,144.2 L455.5,144.8 L456.5,140.3 L457.5,116.8 L458.5,97.1 L459.5,88.6 L460.5,76.6 L461.5,65 L462.5,58.3 L463.5,53.2 L464.5,49.3 L465.5,46.5 L466.5,44.2 L467.5,42.2 L468.5,40.5 L469.5,39 L470.5,37.7 L471.5,36.6 L472.5,35.5 L473.5,34.4 L474.5,33.5 L475.5,32.8 L476.5,32.1 L477.5,31.7 L478.5,31.3 L479.5,30.9 L480.5,30.7 L481.5,30.6 L482.5,30.8 L483.5,31.3 L484.5,31.9 L485.5,32.7 L486.5,33.5 L487.5,34.4 L488.5,35.5 L489.5,36.8 L490.5,38.5 L491.5,40.6 L492.5,43.5 L493.5,47.4 L494.5,53.9 L495.5,62 L496.5,72.3 L497.4,82.9 L498.4,93.5 L499.4,102.8 L500.4,109.9 L501.4,115.6 L502.4,119.5 L503.4,122.7 L504.4,125.3 L505.4,127.7 L506.4,129.8 L507.4,131.6 L508.4,132.9 L509.4,133.9 L510.4,134.8 L511.4,135.4 L512.4,136 L513.4,136.4 L514.4,136.7 L515.4,137.1 L516.4,137.4 L517.4,137.6 L518.4,137.9 L519.4,138.2 L520.4,138.5 L521.4,138.7 L522.4,139 L523.4,139.2 L524.4,139.4 L525.4,139.6 L526.4,139.7 L527.4,139.9 L528.4,140.1 L529.4,140.2 L530.4,140.4 L531.4,140.5 L532.4,140.7 L533.4,140.8 L534.4,141 L535.4,141.1 L536.4,141.2 L537.4,141.4 L538.4,141.5 L539.4,141.6 L540.4,141.7 L541.4,141.7 L542.4,141.8 L543.4,141.9 L544.4,141.9 L545.4,142 L546.4,142.1 L547.4,142.1 L548.4,142.2 L549.4,142.2 L550.4,142.3 L551.3,142.3 L552.3,142.4 L553.3,142.4 L554.3,142.5 L555.3,142.5 L556.3,142.6 L557.3,142.6 L558.3,142.6 L559.3,142.7 L560.3,142.7 L561.3,142.7 L562.3,142.8 L563.3,142.8 L564.3,142.8 L565.3,142.9 L566.3,142.9 L567.3,142.9 L568.3,143 L569.3,143 L570.3,143 L571.3,143 L572.3,143 L573.3,143.1 L574.3,143.1 L575.3,143.1 L576.3,143.1 L577.3,143.1 L578.3,143.2 L579.3,143.2 L580.3,143.2 L581.3,143.2 L582.3,143.2 L583.3,143.3 L584.3,143.3 L585.3,143.3 L586.3,143.3 L587.3,143.3 L588.3,143.3 L589.3,143.4 L590.3,143.4 L591.3,143.4 L592.3,143.4 L593.3,143.4 L594.3,143.4 L595.3,143.4 L596.3,143.4 L597.3,143.5 L598.3,143.5 L599.3,143.5 L600.3,143.5 L601.3,143.5 L602.3,143.5 L603.3,143.5 L604.3,143.5 L605.3,143.5 L606.2,143.5 L607.2,143.5 L608.2,143.5 L609.2,143.5 L610.2,143.5 L611.2,143.5 L612.2,143.6 L613.2,143.6 L614.2,143.6 L615.2,143.6 L616.2,143.6 L617.2,143.6 L618.2,143.6 L619.2,143.6 L620.2,143.6 L621.2,143.6 L622.2,143.6 L623.2,143.6 L624.2,143.6 L625.2,143.6 L626.2,143.6 L627.2,143.6 L628.2,143.6 L629.2,143.6 L630.2,143.6 L631.2,143.6 L632.2,143.6 L633.2,143.6 L634.2,143.6 L635.2,143.6 L636.2,143.6 L637.2,143.6 L638.2,143.6 L639.2,143.6 L640.2,143.6 L641.2,143.6 L642.2,143.6 L643.2,143.6 L644.2,143.6 L645.2,143.6 L646.2,143.6 L647.2,143.6 L648.2,143.7 L649.2,143.7 L650.2,143.7 L651.2,143.7 L652.2,143.7 L653.2,143.7 L654.2,143.7 L655.2,143.7 L656.2,143.7 L657.2,143.7 L658.2,143.7 L659.2,143.7 L660.1,143.7 L661.1,143.7 L662.1,143.7 L663.1,143.7 L664.1,143.7 L665.1,143.7 L666.1,143.7 L667.1,143.7 L668.1,143.7 L669.1,143.7 L670.1,143.8 L671.1,143.8 L672.1,143.8 L673.1,143.8 L674.1,143.7 L675.1,140 L676.1,140.2 L677.1,140.6 L678.1,140.8 L679.1,140.9 L680.1,141 L681.1,141.1 L682.1,141.2 L683.1,141.3 L684.1,141.5 L685.1,141.6 L686.1,141.7 L687.1,141.8 L688.1,141.9 L689.1,142 L690.1,142.1 L691.1,142.2 L692.1,142.3 L693.1,142.3 L694.1,142.4 L695.1,142.5 L696.1,142.6 L697.1,142.7 L698.1,142.8 L699.1,142.8 L700.1,142.9 L701.1,143 L702.1,143 L703.1,143.1 L704.1,143.2 L705.1,143.2 L706.1,143.3 L707.1,143.3 L708.1,143.4 L709.1,143.4 L710.1,143.5 L711.1,143.5 L712.1,143.6 L713.1,143.6 L714,143.6 L715,143.7 L716,143.7 L717,143.7 L718,143.8 L719,143.8 L720,143.8 L721,143.8 L722,143.9 L723,143.9 L724,143.9 L725,143.9 L726,143.9 L727,144 L728,144 L729,144 L730,144 L731,144 L732,144 L733,144 L734,144.1 L735,144.1 L736,144.1 L737,144.1 L738,144.1 L739,144.1 L740,144.1 L741,144.1" fill="none" stroke="#9070c4" stroke-width="1.0" stroke-linejoin="round" />
<path d="M454.5,144.2 L455.5,119.3 L456.5,122.3 L457.5,122.4 L458.5,122.4 L459.5,122.3 L460.5,122.2 L461.5,122.1 L462.5,122 L463.5,121.8 L464.5,121.7 L465.5,121.6 L466.5,121.5 L467.5,121.4 L468.5,121.2 L469.5,121.1 L470.5,121 L471.5,121 L472.5,120.9 L473.5,120.9 L474.5,120.8 L475.5,120.9 L476.5,120.9 L477.5,120.9 L478.5,120.9 L479.5,120.9 L480.5,121 L481.5,121.2 L482.5,121.5 L483.5,121.9 L484.5,122.3 L485.5,122.9 L486.5,123.7 L487.5,124.6 L488.5,125.7 L489.5,126.9 L490.5,128.5 L491.5,130.3 L492.5,132.4 L493.5,134.7 L494.5,137.8 L495.5,140.9 L496.5,142.5 L497.4,143.2 L498.4,143.7 L499.4,143.9 L500.4,144.1 L501.4,144.1 L502.4,144.1 L503.4,144.1 L504.4,144.1 L505.4,144.2 L506.4,144.2 L507.4,144.2 L508.4,144.2 L509.4,144.2 L510.4,144.2 L511.4,144.2 L512.4,144.2 L513.4,144.2 L514.4,144.2 L515.4,144.2 L516.4,144.2 L517.4,144.2 L518.4,144.3 L519.4,144.3 L520.4,144.3 L521.4,144.3 L522.4,144.3 L523.4,144.3 L524.4,144.3 L525.4,144.3 L526.4,144.3 L527.4,144.3 L528.4,144.4 L529.4,144.4 L530.4,144.4 L531.4,144.4 L532.4,144.4 L533.4,144.4 L534.4,144.4 L535.4,144.4 L536.4,144.4 L537.4,144.4 L538.4,144.4 L539.4,144.4 L540.4,144.4 L541.4,144.5 L542.4,144.5 L543.4,144.5 L544.4,144.5 L545.4,144.5 L546.4,144.5 L547.4,144.5 L548.4,144.5 L549.4,144.5 L550.4,144.5 L551.3,144.5 L552.3,144.5 L553.3,144.5 L554.3,144.5 L555.3,144.5 L556.3,144.5 L557.3,144.5 L558.3,144.5 L559.3,144.5 L560.3,144.5 L561.3,144.5 L562.3,144.5 L563.3,144.5 L564.3,144.5 L565.3,144.5 L566.3,144.5 L567.3,144.5 L568.3,144.5 L569.3,144.5 L570.3,144.5 L571.3,144.5 L572.3,144.5 L573.3,144.5 L574.3,144.5 L575.3,144.5 L576.3,144.5 L577.3,144.5 L578.3,144.5 L579.3,144.5 L580.3,144.5 L581.3,144.5 L582.3,144.5 L583.3,144.5 L584.3,144.5 L585.3,144.5 L586.3,144.5 L587.3,144.5 L588.3,144.5 L589.3,144.5 L590.3,144.5 L591.3,144.5 L592.3,144.5 L593.3,144.5 L594.3,144.5 L595.3,144.5 L596.3,144.5 L597.3,144.5 L598.3,144.5 L599.3,144.5 L600.3,144.5 L601.3,144.5 L602.3,144.5 L603.3,144.5 L604.3,144.5 L605.3,144.5 L606.2,144.5 L607.2,144.5 L608.2,144.5 L609.2,144.5 L610.2,144.5 L611.2,144.5 L612.2,144.5 L613.2,144.5 L614.2,144.5 L615.2,144.5 L616.2,144.5 L617.2,144.5 L618.2,144.5 L619.2,144.5 L620.2,144.5 L621.2,144.5 L622.2,144.5 L623.2,144.5 L624.2,144.5 L625.2,144.5 L626.2,144.5 L627.2,144.5 L628.2,144.5 L629.2,144.5 L630.2,144.5 L631.2,144.5 L632.2,144.5 L633.2,144.5 L634.2,144.5 L635.2,144.5 L636.2,144.5 L637.2,144.5 L638.2,144.5 L639.2,144.5 L640.2,144.5 L641.2,144.5 L642.2,144.5 L643.2,144.5 L644.2,144.5 L645.2,144.5 L646.2,144.5 L647.2,144.5 L648.2,144.5 L649.2,144.5 L650.2,144.5 L651.2,144.5 L652.2,144.5 L653.2,144.5 L654.2,144.5 L655.2,144.5 L656.2,144.5 L657.2,144.5 L658.2,144.5 L659.2,144.5 L660.1,144.5 L661.1,144.5 L662.1,144.5 L663.1,144.5 L664.1,144.5 L665.1,144.5 L666.1,144.5 L667.1,144.5 L668.1,144.5 L669.1,144.5 L670.1,144.5 L671.1,144.5 L672.1,144.5 L673.1,144.5 L674.1,144.5 L675.1,144.5 L676.1,144.5 L677.1,144.5 L678.1,144.5 L679.1,144.5 L680.1,144.5 L681.1,144.5 L682.1,144.5 L683.1,144.5 L684.1,144.5 L685.1,144.5 L686.1,144.5 L687.1,144.5 L688.1,144.5 L689.1,144.5 L690.1,144.5 L691.1,144.5 L692.1,144.4 L693.1,144.4 L694.1,144.4 L695.1,144.4 L696.1,144.4 L697.1,144.4 L698.1,144.4 L699.1,144.4 L700.1,144.4 L701.1,144.4 L702.1,144.4 L703.1,144.4 L704.1,144.4 L705.1,144.4 L706.1,144.4 L707.1,144.4 L708.1,144.4 L709.1,144.4 L710.1,144.4 L711.1,144.4 L712.1,144.4 L713.1,144.4 L714,144.4 L715,144.3 L716,144.3 L717,144.3 L718,144.3 L719,144.3 L720,144.3 L721,144.3 L722,144.3 L723,144.3 L724,144.3 L725,144.3 L726,144.3 L727,144.3 L728,144.3 L729,144.3 L730,144.3 L731,144.3 L732,144.3 L733,144.2 L734,144.2 L735,144.2 L736,144.2 L737,144.2 L738,144.2 L739,144.2 L740,144.2 L741,144.2" fill="none" stroke="#2ea8a0" stroke-width="1.0" stroke-linejoin="round" />
<path d="M456,30.5 L674.3,30.5 L674.3,144.2 L741.4,144.2" fill="none" stroke="#5c5c5c" stroke-width="0.9" stroke-linejoin="round" stroke-dasharray="4 3"/>
<path d="M455.5,32.9 L455.5,144.2" fill="none" stroke="#5c5c5c" stroke-width="0.9" stroke-linejoin="round" stroke-dasharray="3 4"/>
<path d="M426.5,144.2 L455.1,144.2" fill="none" stroke="#2ea8a0" stroke-width="1.0" stroke-linejoin="round" />
<path d="M427.5,144.2 L455.1,144.2" fill="none" stroke="#5c5c5c" stroke-width="0.9" stroke-linejoin="round" stroke-dasharray="4 3"/>
<line x1="521.7" y1="124" x2="507.5" y2="136" stroke="#333" stroke-width="0.9" />
<path d="M504.1,139.1 L505.8,133.6 L509.4,137.6 Z" fill="#333"/>
<text x="724.6" y="31.8" font-size="19.5" text-anchor="start" fill="#333" font-weight="bold">B</text>
<text x="453" y="21.9" font-size="11" text-anchor="start" fill="#333">H</text>
<text x="461.3" y="25.7" font-size="7.4" text-anchor="start" fill="#333">2IN</text>
<text x="467.2" y="65.8" font-size="11" text-anchor="start" fill="#8a64c0">H</text>
<text x="475.4" y="69.7" font-size="7.8" text-anchor="start" fill="#8a64c0">2</text>
<text x="479.4" y="65.9" font-size="11.3" text-anchor="start" fill="#8a64c0">O</text>
<text x="531.2" y="54.3" font-size="11" text-anchor="start" fill="#d262b6">H</text>
<text x="539.2" y="58.6" font-size="7.8" text-anchor="start" fill="#d262b6">2</text>
<text x="466" y="116" font-size="11" text-anchor="start" fill="#2ea8a0">N</text>
<text x="474.6" y="120.6" font-size="8" text-anchor="start" fill="#2ea8a0">2</text>
<text x="519.5" y="123" font-size="11" text-anchor="start" fill="#f28c3c">NH</text>
<text x="535.4" y="128.1" font-size="8" text-anchor="start" fill="#f28c3c">3</text>
<text x="590.8" y="192.4" font-size="13.6" text-anchor="middle" fill="#333">Time [s]</text>
<text x="798.9" y="69.3" font-size="13.7" text-anchor="middle" fill="#333" transform="rotate(-90 798.9 69.3)">Concentration [ppm]</text>
<rect x="62.6" y="219" width="314.4" height="144.3" fill="none" stroke="#5e5e5e" stroke-width="1"/>
<line x1="58.4" y1="359.4" x2="62.6" y2="359.4" stroke="#5e5e5e" stroke-width="1" />
<line x1="60.1" y1="343.8" x2="62.6" y2="343.8" stroke="#5e5e5e" stroke-width="1" />
<line x1="58.4" y1="328.1" x2="62.6" y2="328.1" stroke="#5e5e5e" stroke-width="1" />
<line x1="60.1" y1="312.4" x2="62.6" y2="312.4" stroke="#5e5e5e" stroke-width="1" />
<line x1="58.4" y1="296.8" x2="62.6" y2="296.8" stroke="#5e5e5e" stroke-width="1" />
<line x1="60.1" y1="281.1" x2="62.6" y2="281.1" stroke="#5e5e5e" stroke-width="1" />
<line x1="58.4" y1="265.5" x2="62.6" y2="265.5" stroke="#5e5e5e" stroke-width="1" />
<line x1="60.1" y1="249.8" x2="62.6" y2="249.8" stroke="#5e5e5e" stroke-width="1" />
<line x1="58.4" y1="234.2" x2="62.6" y2="234.2" stroke="#5e5e5e" stroke-width="1" />
<text x="53.6" y="363.3" font-size="11" text-anchor="end" fill="#333">0,0</text>
<text x="53.6" y="332" font-size="11" text-anchor="end" fill="#333">0,2</text>
<text x="53.6" y="300.7" font-size="11" text-anchor="end" fill="#333">0,4</text>
<text x="53.6" y="269.4" font-size="11" text-anchor="end" fill="#333">0,6</text>
<text x="53.6" y="238.1" font-size="11" text-anchor="end" fill="#333">0,8</text>
<line x1="62.6" y1="363.3" x2="62.6" y2="367.1" stroke="#5e5e5e" stroke-width="1" />
<line x1="85.1" y1="363.3" x2="85.1" y2="365.6" stroke="#5e5e5e" stroke-width="1" />
<line x1="107.5" y1="363.3" x2="107.5" y2="367.1" stroke="#5e5e5e" stroke-width="1" />
<line x1="130" y1="363.3" x2="130" y2="365.6" stroke="#5e5e5e" stroke-width="1" />
<line x1="152.4" y1="363.3" x2="152.4" y2="367.1" stroke="#5e5e5e" stroke-width="1" />
<line x1="174.9" y1="363.3" x2="174.9" y2="365.6" stroke="#5e5e5e" stroke-width="1" />
<line x1="197.3" y1="363.3" x2="197.3" y2="367.1" stroke="#5e5e5e" stroke-width="1" />
<line x1="219.8" y1="363.3" x2="219.8" y2="365.6" stroke="#5e5e5e" stroke-width="1" />
<line x1="242.2" y1="363.3" x2="242.2" y2="367.1" stroke="#5e5e5e" stroke-width="1" />
<line x1="264.7" y1="363.3" x2="264.7" y2="365.6" stroke="#5e5e5e" stroke-width="1" />
<line x1="287.2" y1="363.3" x2="287.2" y2="367.1" stroke="#5e5e5e" stroke-width="1" />
<line x1="309.6" y1="363.3" x2="309.6" y2="365.6" stroke="#5e5e5e" stroke-width="1" />
<line x1="332.1" y1="363.3" x2="332.1" y2="367.1" stroke="#5e5e5e" stroke-width="1" />
<line x1="354.5" y1="363.3" x2="354.5" y2="365.6" stroke="#5e5e5e" stroke-width="1" />
<line x1="377" y1="363.3" x2="377" y2="367.1" stroke="#5e5e5e" stroke-width="1" />
<text x="62.6" y="380.8" font-size="11" text-anchor="middle" fill="#333">1700</text>
<text x="107.5" y="380.8" font-size="11" text-anchor="middle" fill="#333">1600</text>
<text x="152.4" y="380.8" font-size="11" text-anchor="middle" fill="#333">1500</text>
<text x="197.3" y="380.8" font-size="11" text-anchor="middle" fill="#333">1400</text>
<text x="242.2" y="380.8" font-size="11" text-anchor="middle" fill="#333">1300</text>
<text x="287.2" y="380.8" font-size="11" text-anchor="middle" fill="#333">1200</text>
<text x="332.1" y="380.8" font-size="11" text-anchor="middle" fill="#333">1100</text>
<text x="377" y="380.8" font-size="11" text-anchor="middle" fill="#333">1000</text>
<path d="M377,355.2 L376,355.1 L375,354.3 L374,353.5 L373,353.2 L372,352.6 L371,351.8 L370,351.5 L369,351.8 L368,352.4 L367,352.6 L366,352.4 L365,351.9 L364,351.6 L363,351.9 L362,351.7 L361,351.4 L360,351.5 L359,351 L358,350.6 L357,351 L356,351.2 L355,350.7 L354,350.2 L353,350.5 L352,350.8 L351,350.3 L350,349.6 L349,349.4 L348,349.6 L347,350 L346,350.2 L345,349.8 L344,349.5 L343,349.2 L342,348.8 L341,348.9 L340,348.9 L339,348.8 L338,348.9 L337.1,349.1 L336.1,348.8 L335.1,348.3 L334.1,348.2 L333.1,348.2 L332.1,347.9 L331.1,348 L330.1,348.1 L329.1,347.8 L328.1,347.7 L327.1,347.8 L326.1,347.4 L325.1,347.2 L324.1,347.1 L323.1,347 L322.1,347.4 L321.1,347.2 L320.1,346.6 L319.1,346.3 L318.1,346.3 L317.1,346.4 L316.1,346.1 L315.1,345.6 L314.1,345.3 L313.1,345.7 L312.1,345.7 L311.1,345.1 L310.1,344.8 L309.1,344.5 L308.1,343.8 L307.1,343.4 L306.1,343.4 L305.1,342.9 L304.1,342.2 L303.1,342 L302.1,341.6 L301.1,340.9 L300.1,340.2 L299.1,339.6 L298.1,339 L297.1,338.4 L296.1,337.7 L295.1,337.3 L294.1,337 L293.1,336.2 L292.1,335.1 L291.1,334.8 L290.1,335.1 L289.1,334.8 L288.1,334.2 L287.2,334 L286.2,333.7 L285.2,333.3 L284.2,333.2 L283.2,333.2 L282.2,333.2 L281.2,332.9 L280.2,332.5 L279.2,332.1 L278.2,332.4 L277.2,332.8 L276.2,333.1 L275.2,333.8 L274.2,334.6 L273.2,334.8 L272.2,335.1 L271.2,335.7 L270.2,336.3 L269.2,336.9 L268.2,337.9 L267.2,338.5 L266.2,338.9 L265.2,339.7 L264.2,340.9 L263.2,342.3 L262.2,343.2 L261.2,343.7 L260.2,344.2 L259.2,344.7 L258.2,345.2 L257.2,345.9 L256.2,347 L255.2,347.8 L254.2,348 L253.2,348.3 L252.2,348.7 L251.2,349.1 L250.2,349.9 L249.2,350.5 L248.2,350.9 L247.2,351.3 L246.2,351.7 L245.2,351.7 L244.2,351.7 L243.2,351.9 L242.2,352 L241.2,351.8 L240.2,351.6 L239.2,351.6 L238.2,351.8 L237.2,351.9 L236.3,351.7 L235.3,351.7 L234.3,352.1 L233.3,352.3 L232.3,352 L231.3,351.6 L230.3,351.5 L229.3,351.5 L228.3,351.8 L227.3,352.3 L226.3,352.3 L225.3,352.1 L224.3,352.2 L223.3,352.2 L222.3,351.9 L221.3,351.7 L220.3,351.8 L219.3,351.9 L218.3,352.1 L217.3,352.6 L216.3,353 L215.3,352.7 L214.3,352.5 L213.3,352.9 L212.3,353.1 L211.3,352.7 L210.3,352.4 L209.3,352.9 L208.3,353.6 L207.3,353.9 L206.3,353.7 L205.3,353.3 L204.3,353.7 L203.3,354 L202.3,353.5 L201.3,353.1 L200.3,353 L199.3,353.1 L198.3,352.9 L197.3,352.6 L196.3,352.9 L195.3,353.3 L194.3,353.6 L193.3,353.8 L192.3,353.8 L191.3,353.6 L190.3,353.6 L189.3,354.1 L188.3,354.2 L187.4,353.7 L186.4,353.4 L185.4,353.6 L184.4,353.9 L183.4,353.9 L182.4,354 L181.4,354.1 L180.4,354.3 L179.4,354.7 L178.4,355.2 L177.4,355.4 L176.4,355.2 L175.4,355.6 L174.4,355.8 L173.4,356 L172.4,356.3 L171.4,356.3 L170.4,356.2 L169.4,356.4 L168.4,356.6 L167.4,356.7 L166.4,356.8 L165.4,356.7 L164.4,356.5 L163.4,356.3 L162.4,356.3 L161.4,356.6 L160.4,356.7 L159.4,356.5 L158.4,356.3 L157.4,356.4 L156.4,356.5 L155.4,356.5 L154.4,356.5 L153.4,356.6 L152.4,356.9 L151.4,356.9 L150.4,356.5 L149.4,356.3 L148.4,356.5 L147.4,356.7 L146.4,357.1 L145.4,357.2 L144.4,356.6 L143.4,356.3 L142.4,356.5 L141.4,356.9 L140.4,356.8 L139.4,356.8 L138.4,356.9 L137.4,356.7 L136.5,356.5 L135.5,356.6 L134.5,356.9 L133.5,356.9 L132.5,356.8 L131.5,356.7 L130.5,356.1 L129.5,355.7 L128.5,355.8 L127.5,355.6 L126.5,355.4 L125.5,355.6 L124.5,356.1 L123.5,356.3 L122.5,355.9 L121.5,355.8 L120.5,355.7 L119.5,355.3 L118.5,355.4 L117.5,355.7 L116.5,355.5 L115.5,355.2 L114.5,355.1 L113.5,355 L112.5,355.1 L111.5,355.3 L110.5,355.5 L109.5,355.4 L108.5,355.4 L107.5,355.1 L106.5,355.1 L105.5,355.4 L104.5,355.7 L103.5,356 L102.5,356.3 L101.5,356.3 L100.5,356.4 L99.5,356.4 L98.5,356.5 L97.5,356.6 L96.5,356.3 L95.5,356.3 L94.5,357.1 L93.5,357.7 L92.5,357.5 L91.5,357.1 L90.5,357 L89.5,357.4 L88.5,357.6 L87.6,357.3 L86.6,357.3 L85.6,357.7 L84.6,357.8 L83.6,357.5 L82.6,357.4 L81.6,358 L80.6,358.4 L79.6,358.2 L78.6,358.2 L77.6,358.3 L76.6,358.2 L75.6,357.9 L74.6,357.9 L73.6,358.4 L72.6,358.8 L71.6,359 L70.6,359.4 L69.6,359.3 L68.6,358.9 L67.6,358.4 L66.6,358 L65.6,358.1 L64.6,358.3 L63.6,358.5 L62.6,358.9" fill="none" stroke="#3c3c3c" stroke-width="1.0" stroke-linejoin="round" />
<path d="M377,353.4 L376,352.1 L375,352.1 L374,353 L373,353.2 L372,352.6 L371,351.8 L370,351.3 L369,351.4 L368,351.4 L367,350.3 L366,349.8 L365,349.8 L364,349.9 L363,349.8 L362,349.2 L361,348.9 L360,349.2 L359,349.2 L358,349.1 L357,349.7 L356,349.8 L355,349.3 L354,349.5 L353,349.9 L352,349.5 L351,349.3 L350,349.4 L349,349.2 L348,348.7 L347,348.3 L346,348.5 L345,348.5 L344,348.1 L343,347.9 L342,348 L341,347.7 L340,347.5 L339,347.8 L338,347.9 L337.1,347.5 L336.1,347.2 L335.1,347.1 L334.1,347.5 L333.1,347.5 L332.1,347.4 L331.1,347.3 L330.1,346.7 L329.1,346.3 L328.1,346.1 L327.1,345.5 L326.1,345.1 L325.1,345 L324.1,344.8 L323.1,344.7 L322.1,344.7 L321.1,344.1 L320.1,343.9 L319.1,343.9 L318.1,343.4 L317.1,342.8 L316.1,342.4 L315.1,342.2 L314.1,341.9 L313.1,341.5 L312.1,341.2 L311.1,340.6 L310.1,340.1 L309.1,339.7 L308.1,339.1 L307.1,338.4 L306.1,337.8 L305.1,337.4 L304.1,336.6 L303.1,335.5 L302.1,335.1 L301.1,334.9 L300.1,334 L299.1,333.1 L298.1,332.7 L297.1,331.9 L296.1,330.8 L295.1,329.9 L294.1,328.6 L293.1,327.6 L292.1,327.1 L291.1,326.5 L290.1,325.6 L289.1,324.6 L288.1,323.6 L287.2,323.4 L286.2,323.9 L285.2,323.6 L284.2,322.6 L283.2,322.1 L282.2,322.2 L281.2,322.4 L280.2,322.2 L279.2,322.1 L278.2,322.3 L277.2,322.5 L276.2,322.4 L275.2,322.6 L274.2,323 L273.2,323.5 L272.2,324.1 L271.2,324.2 L270.2,324.2 L269.2,325 L268.2,325.7 L267.2,326.1 L266.2,326.7 L265.2,327.7 L264.2,329.3 L263.2,331 L262.2,332.1 L261.2,332.5 L260.2,333.3 L259.2,335.2 L258.2,336.7 L257.2,337.9 L256.2,339.3 L255.2,340.7 L254.2,341.9 L253.2,342.8 L252.2,343.7 L251.2,344.6 L250.2,345.4 L249.2,346 L248.2,346.6 L247.2,347.4 L246.2,347.6 L245.2,347.3 L244.2,347.5 L243.2,347.5 L242.2,347.4 L241.2,347.4 L240.2,347.4 L239.2,347.6 L238.2,347.9 L237.2,348.2 L236.3,348.2 L235.3,348.2 L234.3,348.2 L233.3,348.1 L232.3,347.8 L231.3,347.7 L230.3,348 L229.3,348.2 L228.3,347.9 L227.3,347.6 L226.3,347.4 L225.3,347.7 L224.3,348.3 L223.3,348.3 L222.3,347.9 L221.3,347.9 L220.3,347.9 L219.3,348.3 L218.3,349.1 L217.3,349.4 L216.3,349.4 L215.3,349.6 L214.3,349.9 L213.3,350.2 L212.3,350.7 L211.3,351.2 L210.3,351.3 L209.3,351.4 L208.3,351.5 L207.3,351.5 L206.3,351.4 L205.3,351.3 L204.3,351.5 L203.3,351.7 L202.3,351.9 L201.3,352.1 L200.3,352.2 L199.3,352.2 L198.3,352.1 L197.3,352.1 L196.3,352.3 L195.3,352.5 L194.3,352.5 L193.3,352.7 L192.3,352.9 L191.3,352.9 L190.3,352.9 L189.3,353 L188.3,353.4 L187.4,353.9 L186.4,354 L185.4,353.9 L184.4,354.4 L183.4,355.1 L182.4,355.5 L181.4,355.5 L180.4,355.5 L179.4,355.8 L178.4,355.8 L177.4,355.9 L176.4,356.4 L175.4,356.2 L174.4,355.9 L173.4,356 L172.4,356.1 L171.4,356.1 L170.4,356.2 L169.4,356.3 L168.4,356.3 L167.4,356.4 L166.4,356.5 L165.4,356.4 L164.4,356.6 L163.4,356.7 L162.4,356.2 L161.4,355.8 L160.4,356 L159.4,356.3 L158.4,356.4 L157.4,356.5 L156.4,356.5 L155.4,356.7 L154.4,357 L153.4,356.8 L152.4,356.8 L151.4,357 L150.4,357.1 L149.4,357.2 L148.4,356.8 L147.4,356.1 L146.4,355.9 L145.4,356.1 L144.4,356.2 L143.4,356.6 L142.4,356.9 L141.4,356.6 L140.4,356.3 L139.4,356.4 L138.4,356.2 L137.4,356.2 L136.5,356.6 L135.5,356.8 L134.5,356.5 L133.5,356.3 L132.5,356.1 L131.5,355.6 L130.5,355.5 L129.5,355.8 L128.5,355.7 L127.5,355.5 L126.5,355.4 L125.5,355.5 L124.5,355.7 L123.5,355.3 L122.5,354.9 L121.5,355.2 L120.5,355.5 L119.5,355.2 L118.5,354.9 L117.5,355.1 L116.5,355.2 L115.5,355 L114.5,355.2 L113.5,355.1 L112.5,355 L111.5,355 L110.5,354.5 L109.5,354.6 L108.5,354.8 L107.5,354.7 L106.5,354.9 L105.5,355.3 L104.5,355.1 L103.5,354.7 L102.5,354.7 L101.5,354.8 L100.5,355 L99.5,355.1 L98.5,355.1 L97.5,355.1 L96.5,355.3 L95.5,355.5 L94.5,355.7 L93.5,356.2 L92.5,356.1 L91.5,355.7 L90.5,355.9 L89.5,356.2 L88.5,356.4 L87.6,356.5 L86.6,356.6 L85.6,356.8 L84.6,357 L83.6,357 L82.6,356.8 L81.6,357.2 L80.6,357.6 L79.6,357.4 L78.6,357.3 L77.6,357.4 L76.6,357.5 L75.6,356.9 L74.6,356.5 L73.6,357.3 L72.6,357.6 L71.6,357.6 L70.6,357.8 L69.6,358.3 L68.6,358.2 L67.6,357.7 L66.6,357.5 L65.6,357.4 L64.6,357.7 L63.6,357.5 L62.6,357" fill="none" stroke="#ec5a3c" stroke-width="1.0" stroke-linejoin="round" />
<path d="M377,353.4 L376,352.4 L375,351.9 L374,351.4 L373,351.4 L372,352.5 L371,352.9 L370,352.4 L369,351 L368,349.9 L367,349.7 L366,350 L365,350.3 L364,349.8 L363,348.8 L362,347.6 L361,347.2 L360,347.5 L359,347.8 L358,347.8 L357,348 L356,348.5 L355,348.7 L354,348.7 L353,348.7 L352,348.7 L351,348.6 L350,348.5 L349,348.4 L348,348.4 L347,348.2 L346,348.2 L345,348.5 L344,348.4 L343,348.2 L342,347.9 L341,347.8 L340,347.7 L339,347.3 L338,346.8 L337.1,347 L336.1,347.1 L335.1,346.9 L334.1,346.7 L333.1,346.5 L332.1,346.4 L331.1,346.7 L330.1,346.8 L329.1,346.2 L328.1,345.6 L327.1,345.3 L326.1,344.8 L325.1,344.4 L324.1,344.2 L323.1,343.5 L322.1,342.8 L321.1,342.5 L320.1,342.1 L319.1,341.6 L318.1,341.1 L317.1,341.1 L316.1,341 L315.1,340.6 L314.1,340.6 L313.1,340.5 L312.1,339.8 L311.1,338.8 L310.1,338.4 L309.1,338.5 L308.1,338.1 L307.1,337.2 L306.1,336.3 L305.1,335.5 L304.1,334.6 L303.1,333.9 L302.1,333.3 L301.1,332.9 L300.1,332.6 L299.1,331.9 L298.1,330.7 L297.1,329.5 L296.1,328.5 L295.1,327.4 L294.1,326.3 L293.1,325.5 L292.1,325 L291.1,324 L290.1,322.7 L289.1,322.2 L288.1,322 L287.2,321.3 L286.2,321 L285.2,320.7 L284.2,320.1 L283.2,319.9 L282.2,319.9 L281.2,319.4 L280.2,319.3 L279.2,319.6 L278.2,319.9 L277.2,320.2 L276.2,320.1 L275.2,320.1 L274.2,320.4 L273.2,320.8 L272.2,321.1 L271.2,321.3 L270.2,321.6 L269.2,322.3 L268.2,323.3 L267.2,324 L266.2,325.2 L265.2,327.1 L264.2,329 L263.2,330.6 L262.2,331.6 L261.2,332.5 L260.2,333.5 L259.2,334.7 L258.2,335.6 L257.2,335.9 L256.2,336.7 L255.2,338.1 L254.2,339.1 L253.2,339.5 L252.2,339.8 L251.2,340.3 L250.2,341.3 L249.2,342 L248.2,342.4 L247.2,343 L246.2,342.9 L245.2,342.6 L244.2,343 L243.2,343.7 L242.2,343.8 L241.2,343.5 L240.2,343.3 L239.2,343.5 L238.2,343.5 L237.2,343.3 L236.3,343.2 L235.3,343.2 L234.3,343.2 L233.3,343.5 L232.3,343.4 L231.3,342.8 L230.3,342.7 L229.3,342.8 L228.3,342.5 L227.3,342.3 L226.3,342.5 L225.3,342.8 L224.3,342.9 L223.3,343.5 L222.3,344.1 L221.3,344.2 L220.3,344.3 L219.3,345 L218.3,345.4 L217.3,345.9 L216.3,346.5 L215.3,346.8 L214.3,346.9 L213.3,347 L212.3,347.6 L211.3,348.2 L210.3,348.4 L209.3,348.3 L208.3,348.3 L207.3,348.5 L206.3,348.6 L205.3,348.6 L204.3,349 L203.3,349.3 L202.3,349.4 L201.3,349.8 L200.3,350.3 L199.3,349.8 L198.3,349.1 L197.3,349.6 L196.3,350.1 L195.3,349.6 L194.3,349 L193.3,349.1 L192.3,349.3 L191.3,349.4 L190.3,349.2 L189.3,348.9 L188.3,349 L187.4,349.4 L186.4,349.5 L185.4,349.9 L184.4,350.6 L183.4,351.1 L182.4,351.6 L181.4,352.1 L180.4,352.3 L179.4,352.8 L178.4,353.5 L177.4,354.1 L176.4,354.1 L175.4,353.9 L174.4,354.3 L173.4,354.6 L172.4,354.7 L171.4,354.6 L170.4,354.8 L169.4,355.1 L168.4,355.2 L167.4,355 L166.4,355 L165.4,355.2 L164.4,355.2 L163.4,354.9 L162.4,354.7 L161.4,355 L160.4,355.4 L159.4,355.3 L158.4,355.2 L157.4,354.9 L156.4,354.8 L155.4,355.1 L154.4,355.5 L153.4,355.6 L152.4,355.6 L151.4,355.3 L150.4,354.9 L149.4,355.1 L148.4,355.2 L147.4,355.1 L146.4,355.3 L145.4,355.1 L144.4,354.9 L143.4,355.1 L142.4,355.3 L141.4,355.4 L140.4,355.3 L139.4,355.4 L138.4,355.8 L137.4,355.6 L136.5,355.2 L135.5,355.5 L134.5,355.6 L133.5,355.4 L132.5,355.1 L131.5,354.6 L130.5,354.4 L129.5,354.9 L128.5,355.4 L127.5,355.3 L126.5,355 L125.5,354.6 L124.5,354.2 L123.5,354.2 L122.5,354 L121.5,354 L120.5,354.5 L119.5,354.9 L118.5,355 L117.5,355 L116.5,354.6 L115.5,354.3 L114.5,354.3 L113.5,354.7 L112.5,355.1 L111.5,354.7 L110.5,354.2 L109.5,354.4 L108.5,355.1 L107.5,355.3 L106.5,355.2 L105.5,355.5 L104.5,355.8 L103.5,355.4 L102.5,354.9 L101.5,355.5 L100.5,356.1 L99.5,356.1 L98.5,355.8 L97.5,355.6 L96.5,355.7 L95.5,356 L94.5,356.3 L93.5,356.6 L92.5,357 L91.5,357 L90.5,356.6 L89.5,356.7 L88.5,356.9 L87.6,357.2 L86.6,357.4 L85.6,357.6 L84.6,357.9 L83.6,357.7 L82.6,357.4 L81.6,357.4 L80.6,357.4 L79.6,357.5 L78.6,357.7 L77.6,358.2 L76.6,358.6 L75.6,358.3 L74.6,357.8 L73.6,357.8 L72.6,358 L71.6,358.3 L70.6,358.3 L69.6,357.9 L68.6,357.8 L67.6,357.9 L66.6,358.2 L65.6,358.8 L64.6,359.2 L63.6,359.1 L62.6,359" fill="none" stroke="#48aa64" stroke-width="1.0" stroke-linejoin="round" />
<path d="M377,353.2 L376,354.3 L375,353.1 L374,351.4 L373,350.8 L372,350.1 L371,349.7 L370,350.1 L369,350.2 L368,349.3 L367,348.9 L366,349 L365,348.5 L364,347.6 L363,347.3 L362,347.5 L361,347.8 L360,347.4 L359,346.6 L358,346.4 L357,346.6 L356,346.5 L355,346.4 L354,346.6 L353,347 L352,347.3 L351,347.7 L350,347.8 L349,348.1 L348,347.9 L347,347.6 L346,347.8 L345,348.1 L344,348.2 L343,347.9 L342,347.4 L341,347.4 L340,347.7 L339,347.8 L338,347.6 L337.1,347.7 L336.1,347.6 L335.1,347.2 L334.1,346.7 L333.1,346.5 L332.1,346.4 L331.1,346.4 L330.1,346.3 L329.1,345.7 L328.1,345.3 L327.1,345.2 L326.1,345 L325.1,344.6 L324.1,344.1 L323.1,343.7 L322.1,343.4 L321.1,343 L320.1,342.6 L319.1,342.6 L318.1,342.5 L317.1,342 L316.1,341.5 L315.1,341.3 L314.1,340.9 L313.1,340.1 L312.1,339.5 L311.1,339.7 L310.1,340 L309.1,339.5 L308.1,338.9 L307.1,338.3 L306.1,337.2 L305.1,336.1 L304.1,335.8 L303.1,335.2 L302.1,334.2 L301.1,333.4 L300.1,332.8 L299.1,332.2 L298.1,331.2 L297.1,330.5 L296.1,330.1 L295.1,328.9 L294.1,327.2 L293.1,326.1 L292.1,325.6 L291.1,324.9 L290.1,324.2 L289.1,323.6 L288.1,322.7 L287.2,321.8 L286.2,321.3 L285.2,321 L284.2,320.8 L283.2,320.3 L282.2,320 L281.2,320.2 L280.2,320.2 L279.2,319.9 L278.2,319.6 L277.2,319.3 L276.2,319.8 L275.2,320.5 L274.2,320.8 L273.2,321 L272.2,321 L271.2,320.9 L270.2,321.5 L269.2,322.1 L268.2,322.8 L267.2,323.8 L266.2,325.3 L265.2,327.1 L264.2,328.8 L263.2,330.4 L262.2,332.2 L261.2,333.6 L260.2,334.1 L259.2,334.3 L258.2,335 L257.2,335.7 L256.2,335.7 L255.2,335.5 L254.2,336 L253.2,336.5 L252.2,336.9 L251.2,337.6 L250.2,338.1 L249.2,338.3 L248.2,338.7 L247.2,338.6 L246.2,337.5 L245.2,337.1 L244.2,337.1 L243.2,336.9 L242.2,336.2 L241.2,335.4 L240.2,334.8 L239.2,334.5 L238.2,334.1 L237.2,333 L236.3,332.1 L235.3,331.8 L234.3,331.4 L233.3,330.8 L232.3,330.2 L231.3,329.8 L230.3,330.1 L229.3,330.2 L228.3,330.1 L227.3,330.2 L226.3,330.3 L225.3,330.4 L224.3,330.8 L223.3,331.4 L222.3,331.4 L221.3,331.2 L220.3,331.9 L219.3,332.7 L218.3,333.1 L217.3,334.5 L216.3,336.1 L215.3,336.8 L214.3,337.2 L213.3,337.3 L212.3,338 L211.3,339 L210.3,339.3 L209.3,339.7 L208.3,340 L207.3,340.1 L206.3,340.4 L205.3,340.7 L204.3,340.9 L203.3,340.8 L202.3,340.3 L201.3,339.8 L200.3,339.3 L199.3,338.9 L198.3,338.9 L197.3,338.9 L196.3,338.7 L195.3,338.9 L194.3,339.4 L193.3,339.2 L192.3,338.3 L191.3,338 L190.3,338.2 L189.3,338.5 L188.3,338.4 L187.4,338.4 L186.4,339.2 L185.4,340.2 L184.4,340.5 L183.4,340.9 L182.4,342.1 L181.4,343.5 L180.4,344.1 L179.4,344.1 L178.4,344.1 L177.4,344.7 L176.4,345.7 L175.4,346.4 L174.4,346.8 L173.4,347.3 L172.4,348 L171.4,348.5 L170.4,348.6 L169.4,348.9 L168.4,349.7 L167.4,350.1 L166.4,350.2 L165.4,350.3 L164.4,350.5 L163.4,350.8 L162.4,351 L161.4,351.2 L160.4,351.5 L159.4,352 L158.4,352 L157.4,352 L156.4,352 L155.4,351.7 L154.4,351.6 L153.4,352.1 L152.4,353 L151.4,353.1 L150.4,352.7 L149.4,352.9 L148.4,352.7 L147.4,352.2 L146.4,352.5 L145.4,352.9 L144.4,352.7 L143.4,352.6 L142.4,352.7 L141.4,352.8 L140.4,352.9 L139.4,353.1 L138.4,353 L137.4,352.8 L136.5,352.5 L135.5,352.5 L134.5,352.6 L133.5,352.4 L132.5,352.3 L131.5,352.3 L130.5,352.2 L129.5,352.4 L128.5,352.5 L127.5,352.4 L126.5,352.3 L125.5,352.5 L124.5,353.2 L123.5,353.4 L122.5,353.5 L121.5,353.4 L120.5,353.1 L119.5,353.1 L118.5,353.1 L117.5,353.7 L116.5,354.5 L115.5,354.3 L114.5,353.4 L113.5,353.3 L112.5,354.1 L111.5,354.3 L110.5,354.2 L109.5,354.6 L108.5,354.6 L107.5,354.4 L106.5,354.7 L105.5,355 L104.5,354.9 L103.5,354.6 L102.5,355.1 L101.5,355.4 L100.5,355.2 L99.5,355.1 L98.5,355.3 L97.5,355.4 L96.5,355.3 L95.5,355.5 L94.5,355.8 L93.5,355.7 L92.5,355.6 L91.5,356 L90.5,356.4 L89.5,356.3 L88.5,355.9 L87.6,355.8 L86.6,356 L85.6,356.2 L84.6,356.1 L83.6,355.9 L82.6,355.9 L81.6,356.4 L80.6,356.8 L79.6,357 L78.6,357.3 L77.6,357.2 L76.6,357.1 L75.6,357 L74.6,357 L73.6,357.3 L72.6,357.6 L71.6,357.6 L70.6,357.6 L69.6,357.4 L68.6,357.4 L67.6,357.5 L66.6,357.2 L65.6,357 L64.6,357.3 L63.6,357.5 L62.6,357.8" fill="none" stroke="#5252a8" stroke-width="1.0" stroke-linejoin="round" />
<path d="M377,353 L376,353.8 L375,354.8 L374,354.5 L373,352.1 L372,350.1 L371,349.7 L370,349.1 L369,348.7 L368,348.1 L367,347.2 L366,347.4 L365,346.6 L364,345.4 L363,345.8 L362,346.2 L361,346 L360,346.1 L359,346.6 L358,346.1 L357,345.4 L356,345.9 L355,346.4 L354,346.5 L353,346.7 L352,346.9 L351,347.4 L350,347.8 L349,347.9 L348,347.9 L347,347.8 L346,348 L345,348.3 L344,348.2 L343,348.1 L342,347.7 L341,347.6 L340,347.7 L339,347.7 L338,347.4 L337.1,347.3 L336.1,347.1 L335.1,347.2 L334.1,347.5 L333.1,347.4 L332.1,347.2 L331.1,346.9 L330.1,346.4 L329.1,346.3 L328.1,346.5 L327.1,346.7 L326.1,346.5 L325.1,345.9 L324.1,345.8 L323.1,345.8 L322.1,345.5 L321.1,345.4 L320.1,345.6 L319.1,345.3 L318.1,344.8 L317.1,344.8 L316.1,344.4 L315.1,343.7 L314.1,343.3 L313.1,343.1 L312.1,342.7 L311.1,342.4 L310.1,342 L309.1,341.4 L308.1,340.5 L307.1,339.9 L306.1,339.7 L305.1,339.4 L304.1,338.9 L303.1,338.5 L302.1,337.6 L301.1,336.8 L300.1,336.4 L299.1,335.7 L298.1,335 L297.1,334 L296.1,333.3 L295.1,333.1 L294.1,332.7 L293.1,331.9 L292.1,331.1 L291.1,330.4 L290.1,329.2 L289.1,328.3 L288.1,328.1 L287.2,328.1 L286.2,327.9 L285.2,327.5 L284.2,326.9 L283.2,326.3 L282.2,326 L281.2,325.7 L280.2,325.5 L279.2,325.4 L278.2,325.2 L277.2,325.3 L276.2,325.6 L275.2,325.7 L274.2,325.6 L273.2,325.7 L272.2,326 L271.2,326.4 L270.2,327 L269.2,327.7 L268.2,328.2 L267.2,328.8 L266.2,330 L265.2,331 L264.2,331.6 L263.2,332.6 L262.2,333.3 L261.2,333.4 L260.2,333.4 L259.2,333.3 L258.2,333.3 L257.2,332.9 L256.2,332.6 L255.2,332.3 L254.2,332 L253.2,332 L252.2,331.8 L251.2,331.2 L250.2,330.7 L249.2,330.5 L248.2,330.2 L247.2,329.3 L246.2,328.5 L245.2,328.1 L244.2,327.6 L243.2,326.4 L242.2,325.2 L241.2,324.3 L240.2,323.5 L239.2,322.5 L238.2,320.5 L237.2,318.4 L236.3,316.7 L235.3,315.5 L234.3,314.9 L233.3,314.5 L232.3,314.1 L231.3,314 L230.3,313.6 L229.3,313.1 L228.3,313.3 L227.3,313.7 L226.3,313.7 L225.3,314 L224.3,314.6 L223.3,315 L222.3,315.4 L221.3,316.1 L220.3,317.2 L219.3,318.1 L218.3,319 L217.3,319.9 L216.3,320.2 L215.3,320.9 L214.3,322.5 L213.3,323.8 L212.3,324.8 L211.3,325.8 L210.3,326.4 L209.3,327 L208.3,327.6 L207.3,327.9 L206.3,327.9 L205.3,328.2 L204.3,328.8 L203.3,328.7 L202.3,328.2 L201.3,327.6 L200.3,326.9 L199.3,326.7 L198.3,326.5 L197.3,325.8 L196.3,324.7 L195.3,323.5 L194.3,322.9 L193.3,322.9 L192.3,323 L191.3,323.1 L190.3,323.4 L189.3,323.3 L188.3,322.9 L187.4,323.1 L186.4,323.7 L185.4,324 L184.4,324.2 L183.4,324.8 L182.4,325.9 L181.4,326.7 L180.4,327.1 L179.4,327.2 L178.4,327.9 L177.4,328.8 L176.4,329.6 L175.4,331.1 L174.4,333.1 L173.4,334.4 L172.4,335.1 L171.4,335.8 L170.4,336.8 L169.4,337.5 L168.4,338.2 L167.4,339.2 L166.4,339.9 L165.4,340.5 L164.4,341.7 L163.4,342.8 L162.4,343.5 L161.4,344.1 L160.4,344.9 L159.4,346.5 L158.4,347.8 L157.4,348.1 L156.4,348.5 L155.4,348.9 L154.4,349 L153.4,349 L152.4,349.3 L151.4,349.8 L150.4,350.1 L149.4,350.1 L148.4,350 L147.4,349.8 L146.4,349.9 L145.4,350 L144.4,349.9 L143.4,350 L142.4,350.1 L141.4,350.3 L140.4,350.6 L139.4,350.8 L138.4,350.9 L137.4,351.2 L136.5,351 L135.5,350.7 L134.5,350.9 L133.5,350.9 L132.5,350.7 L131.5,351 L130.5,351.1 L129.5,350.8 L128.5,351.1 L127.5,351.5 L126.5,351.7 L125.5,351.6 L124.5,351.5 L123.5,351.7 L122.5,351.9 L121.5,351.8 L120.5,351.8 L119.5,352.1 L118.5,352.6 L117.5,353.1 L116.5,353.3 L115.5,353.5 L114.5,353.5 L113.5,353.7 L112.5,354.3 L111.5,354.6 L110.5,354.5 L109.5,354.6 L108.5,354.9 L107.5,355 L106.5,355.2 L105.5,355.3 L104.5,355.3 L103.5,355.1 L102.5,354.9 L101.5,355.2 L100.5,355.5 L99.5,355.2 L98.5,355.3 L97.5,355.7 L96.5,355.8 L95.5,356.2 L94.5,356.5 L93.5,356.3 L92.5,356 L91.5,356.2 L90.5,356.5 L89.5,356.7 L88.5,356.8 L87.6,356.7 L86.6,356.4 L85.6,356.5 L84.6,356.9 L83.6,356.8 L82.6,357.2 L81.6,357.6 L80.6,357.2 L79.6,356.8 L78.6,357 L77.6,357.4 L76.6,357.9 L75.6,358.2 L74.6,357.9 L73.6,357.9 L72.6,358.1 L71.6,358.1 L70.6,357.8 L69.6,357.7 L68.6,358.2 L67.6,358.8 L66.6,358.9 L65.6,358.6 L64.6,358.2 L63.6,358.3 L62.6,358.4" fill="none" stroke="#3cbcbc" stroke-width="1.0" stroke-linejoin="round" />
<path d="M377,353.8 L376,353 L375,351.6 L374,351 L373,349.9 L372,349.7 L371,349.7 L370,348.8 L369,347.6 L368,346.4 L367,346.3 L366,346.7 L365,346.2 L364,345.6 L363,344.8 L362,344.1 L361,343.7 L360,343.5 L359,343.9 L358,344.9 L357,345.9 L356,346.1 L355,345.6 L354,345.2 L353,345.6 L352,346.4 L351,347 L350,347.4 L349,348 L348,348.2 L347,348 L346,347.9 L345,347.9 L344,347.7 L343,347.8 L342,347.9 L341,347.5 L340,347.3 L339,347.7 L338,348.2 L337.1,348.6 L336.1,348.5 L335.1,348.1 L334.1,347.9 L333.1,347.7 L332.1,347.4 L331.1,347.3 L330.1,347.3 L329.1,347.5 L328.1,347.7 L327.1,347.4 L326.1,347.4 L325.1,347.6 L324.1,347.1 L323.1,346.7 L322.1,346.5 L321.1,346.7 L320.1,347 L319.1,346.9 L318.1,346.6 L317.1,346.3 L316.1,345.9 L315.1,345.5 L314.1,345.5 L313.1,345.5 L312.1,344.9 L311.1,344.4 L310.1,344.6 L309.1,344.8 L308.1,344.4 L307.1,344 L306.1,343.8 L305.1,343.3 L304.1,342.7 L303.1,341.9 L302.1,341.2 L301.1,341.1 L300.1,340.9 L299.1,340.2 L298.1,339.8 L297.1,339.1 L296.1,338.3 L295.1,338.1 L294.1,337.6 L293.1,336.3 L292.1,335.1 L291.1,334.6 L290.1,334.2 L289.1,333.8 L288.1,333.6 L287.2,332.8 L286.2,332.4 L285.2,332.6 L284.2,332.6 L283.2,332.7 L282.2,332.3 L281.2,331.9 L280.2,331.8 L279.2,331.6 L278.2,331.4 L277.2,331.3 L276.2,331 L275.2,330.9 L274.2,331.2 L273.2,331.2 L272.2,331.2 L271.2,331.8 L270.2,332.4 L269.2,332.6 L268.2,332.1 L267.2,331.8 L266.2,331.9 L265.2,331.9 L264.2,332.2 L263.2,332.8 L262.2,333.5 L261.2,333.8 L260.2,333.6 L259.2,333.3 L258.2,333.3 L257.2,333.2 L256.2,332.8 L255.2,332.5 L254.2,332.5 L253.2,331.8 L252.2,330.5 L251.2,329.1 L250.2,327.8 L249.2,326.6 L248.2,325.3 L247.2,323.6 L246.2,321.6 L245.2,320 L244.2,319 L243.2,318.2 L242.2,316.8 L241.2,315.1 L240.2,313.4 L239.2,311.2 L238.2,308.2 L237.2,305.5 L236.3,302.6 L235.3,300.1 L234.3,298.9 L233.3,298.2 L232.3,297.4 L231.3,296.8 L230.3,296.5 L229.3,296.3 L228.3,296 L227.3,295.9 L226.3,296 L225.3,296.6 L224.3,297.6 L223.3,298.6 L222.3,299.8 L221.3,301 L220.3,301.5 L219.3,302.1 L218.3,303.4 L217.3,304.9 L216.3,305.6 L215.3,306.8 L214.3,308.7 L213.3,310.4 L212.3,311.9 L211.3,312.9 L210.3,313.4 L209.3,314.5 L208.3,315.6 L207.3,316.3 L206.3,316.9 L205.3,317.1 L204.3,316.9 L203.3,316.6 L202.3,316 L201.3,315 L200.3,314 L199.3,313.4 L198.3,312.5 L197.3,311.5 L196.3,310.7 L195.3,309.6 L194.3,308.3 L193.3,307.5 L192.3,307.1 L191.3,306.9 L190.3,307.3 L189.3,307.9 L188.3,308.1 L187.4,308 L186.4,308.1 L185.4,308.5 L184.4,308.7 L183.4,309.2 L182.4,310.3 L181.4,311.7 L180.4,312.8 L179.4,314.4 L178.4,316.2 L177.4,317.4 L176.4,318.7 L175.4,320.2 L174.4,321 L173.4,321.8 L172.4,323.5 L171.4,325.3 L170.4,326.4 L169.4,327.4 L168.4,328.8 L167.4,330 L166.4,331.1 L165.4,332.1 L164.4,333.2 L163.4,334.7 L162.4,335.7 L161.4,336.9 L160.4,338.6 L159.4,340.2 L158.4,341.4 L157.4,343 L156.4,344.7 L155.4,345.4 L154.4,345.8 L153.4,346.3 L152.4,346.8 L151.4,347 L150.4,346.9 L149.4,347.3 L148.4,347.8 L147.4,347.8 L146.4,347.9 L145.4,348.6 L144.4,349.3 L143.4,349 L142.4,349 L141.4,349.4 L140.4,349.4 L139.4,349.1 L138.4,349 L137.4,349.2 L136.5,349.5 L135.5,349.8 L134.5,349.8 L133.5,349.5 L132.5,349.6 L131.5,350.1 L130.5,350.2 L129.5,349.8 L128.5,349.9 L127.5,350.7 L126.5,351.1 L125.5,350.8 L124.5,350.5 L123.5,350.6 L122.5,351.2 L121.5,351.8 L120.5,352 L119.5,352.2 L118.5,352.1 L117.5,351.8 L116.5,352.3 L115.5,353 L114.5,353.2 L113.5,353.3 L112.5,353.5 L111.5,354.1 L110.5,354.6 L109.5,355.1 L108.5,355.4 L107.5,355.4 L106.5,355.4 L105.5,355.6 L104.5,356.1 L103.5,356.4 L102.5,356.2 L101.5,355.9 L100.5,356 L99.5,356.6 L98.5,357.3 L97.5,357.5 L96.5,357.2 L95.5,357 L94.5,357.2 L93.5,357.6 L92.5,357.5 L91.5,357.1 L90.5,357.3 L89.5,357.7 L88.5,358 L87.6,358.4 L86.6,358.5 L85.6,358.1 L84.6,357.6 L83.6,357.6 L82.6,358 L81.6,358 L80.6,358 L79.6,358.1 L78.6,358.4 L77.6,358.4 L76.6,358.4 L75.6,358.8 L74.6,358.8 L73.6,358.6 L72.6,358.5 L71.6,358.5 L70.6,358.5 L69.6,358.3 L68.6,358.4 L67.6,358.4 L66.6,358.4 L65.6,358.9 L64.6,359.1 L63.6,359.1 L62.6,359.3" fill="none" stroke="#cc62c4" stroke-width="1.0" stroke-linejoin="round" />
<path d="M377,351.8 L376,350.4 L375,349.1 L374,348.1 L373,347.8 L372,348.1 L371,348 L370,348 L369,348 L368,347 L367,346 L366,345.6 L365,344.7 L364,343.5 L363,343 L362,342.8 L361,342.8 L360,343.3 L359,343.5 L358,343.3 L357,343.6 L356,343.8 L355,343.9 L354,344.2 L353,344.7 L352,345.2 L351,345.9 L350,346.6 L349,347.2 L348,347.7 L347,347.7 L346,347.8 L345,347.6 L344,347.7 L343,348.4 L342,348.3 L341,347.8 L340,347.5 L339,347.5 L338,347.7 L337.1,347.9 L336.1,348 L335.1,348 L334.1,347.9 L333.1,347.8 L332.1,347.9 L331.1,347.7 L330.1,347.4 L329.1,347.6 L328.1,348 L327.1,348 L326.1,347.9 L325.1,348.3 L324.1,348.7 L323.1,348.3 L322.1,347.9 L321.1,347.8 L320.1,347.7 L319.1,347.6 L318.1,347.5 L317.1,347 L316.1,347.2 L315.1,347.2 L314.1,346.9 L313.1,347.2 L312.1,347.2 L311.1,346.9 L310.1,346.8 L309.1,346.4 L308.1,345.9 L307.1,345.6 L306.1,345.4 L305.1,344.7 L304.1,344 L303.1,344.2 L302.1,344.4 L301.1,343.7 L300.1,343.1 L299.1,343.1 L298.1,343.2 L297.1,342.8 L296.1,342.5 L295.1,342.1 L294.1,341.2 L293.1,340.7 L292.1,340.8 L291.1,340.5 L290.1,339.8 L289.1,339.2 L288.1,339.1 L287.2,338.7 L286.2,338.2 L285.2,337.9 L284.2,337.8 L283.2,338 L282.2,337.7 L281.2,337.5 L280.2,337.7 L279.2,337.4 L278.2,337.2 L277.2,337 L276.2,336.8 L275.2,336.5 L274.2,336 L273.2,335.6 L272.2,335.7 L271.2,335.8 L270.2,335.4 L269.2,334.9 L268.2,334.9 L267.2,335.1 L266.2,334.9 L265.2,334.4 L264.2,334 L263.2,333.9 L262.2,333.7 L261.2,333.5 L260.2,333.3 L259.2,332.8 L258.2,332.2 L257.2,331 L256.2,329.7 L255.2,328.5 L254.2,326.9 L253.2,325.5 L252.2,324.6 L251.2,323.4 L250.2,321.9 L249.2,320.2 L248.2,318.3 L247.2,316.6 L246.2,314.7 L245.2,313 L244.2,312.1 L243.2,311 L242.2,309.1 L241.2,306.9 L240.2,304.2 L239.2,300.9 L238.2,297.2 L237.2,293.7 L236.3,290.4 L235.3,287.8 L234.3,286.6 L233.3,285.2 L232.3,283.9 L231.3,283.5 L230.3,283.4 L229.3,283.3 L228.3,283.1 L227.3,283.2 L226.3,283.8 L225.3,284.5 L224.3,285.1 L223.3,285.7 L222.3,286.5 L221.3,287.9 L220.3,289.2 L219.3,290.1 L218.3,291.2 L217.3,292.3 L216.3,293.3 L215.3,294.5 L214.3,296.5 L213.3,298.6 L212.3,299.9 L211.3,300.9 L210.3,302.1 L209.3,303.2 L208.3,304.2 L207.3,305 L206.3,305.4 L205.3,305.3 L204.3,305.3 L203.3,305 L202.3,303.8 L201.3,302.9 L200.3,302 L199.3,300.8 L198.3,299.8 L197.3,299.3 L196.3,298 L195.3,296.6 L194.3,295.8 L193.3,295.3 L192.3,294.7 L191.3,294.1 L190.3,294.1 L189.3,294.8 L188.3,295.1 L187.4,295.1 L186.4,295.6 L185.4,296.2 L184.4,296.9 L183.4,298.1 L182.4,299.6 L181.4,301 L180.4,302.6 L179.4,304.1 L178.4,305.6 L177.4,307.3 L176.4,308.8 L175.4,310.5 L174.4,312.3 L173.4,314.1 L172.4,316.1 L171.4,317.8 L170.4,319.2 L169.4,321 L168.4,323.1 L167.4,325.5 L166.4,327.6 L165.4,329.1 L164.4,330.3 L163.4,331.8 L162.4,333.4 L161.4,335 L160.4,336.5 L159.4,337.9 L158.4,339.2 L157.4,340.1 L156.4,341.1 L155.4,342.2 L154.4,342.8 L153.4,343.3 L152.4,343.7 L151.4,343.8 L150.4,344.3 L149.4,345.1 L148.4,345.4 L147.4,345.2 L146.4,345.8 L145.4,346.4 L144.4,346.5 L143.4,346.7 L142.4,346.8 L141.4,346.9 L140.4,347.1 L139.4,347.1 L138.4,347 L137.4,347.5 L136.5,347.5 L135.5,347.2 L134.5,347.4 L133.5,347.6 L132.5,347.8 L131.5,348 L130.5,348.2 L129.5,348.2 L128.5,348.5 L127.5,348.9 L126.5,348.8 L125.5,348.9 L124.5,349.7 L123.5,350.2 L122.5,350.2 L121.5,350.3 L120.5,350.5 L119.5,351 L118.5,351.5 L117.5,351.7 L116.5,351.8 L115.5,352.3 L114.5,353.1 L113.5,353.7 L112.5,353.7 L111.5,353.5 L110.5,353.9 L109.5,354.5 L108.5,354.5 L107.5,354.5 L106.5,355 L105.5,355.1 L104.5,354.8 L103.5,354.8 L102.5,355.1 L101.5,355.5 L100.5,355.9 L99.5,356.2 L98.5,356.1 L97.5,356 L96.5,355.8 L95.5,355.6 L94.5,355.9 L93.5,356 L92.5,355.7 L91.5,355.7 L90.5,356.2 L89.5,356.4 L88.5,356.7 L87.6,357.2 L86.6,357.1 L85.6,356.8 L84.6,357 L83.6,357.2 L82.6,357.2 L81.6,357.3 L80.6,357.5 L79.6,357.5 L78.6,357.6 L77.6,357.9 L76.6,357.8 L75.6,357.6 L74.6,357.6 L73.6,358.1 L72.6,358.4 L71.6,357.8 L70.6,357.7 L69.6,358.1 L68.6,357.9 L67.6,357.9 L66.6,358.1 L65.6,358 L64.6,358 L63.6,357.7 L62.6,357.5" fill="none" stroke="#a2a24e" stroke-width="1.0" stroke-linejoin="round" />
<path d="M377,349.7 L376,349.5 L375,350 L374,350.3 L373,349.6 L372,348.1 L371,347.3 L370,346.6 L369,345.4 L368,345.1 L367,344.7 L366,343.8 L365,342.9 L364,341.5 L363,340.9 L362,340.9 L361,340.3 L360,340.2 L359,340.3 L358,340.4 L357,340.6 L356,341.3 L355,342.5 L354,343.1 L353,343.4 L352,344.5 L351,345.4 L350,345.8 L349,347.1 L348,348.1 L347,348.1 L346,347.5 L345,347.3 L344,347.8 L343,348.2 L342,348.2 L341,348.3 L340,348.5 L339,348.6 L338,348.4 L337.1,348.6 L336.1,349.1 L335.1,348.9 L334.1,348.5 L333.1,348.6 L332.1,349.1 L331.1,349.4 L330.1,349.3 L329.1,349.1 L328.1,349.4 L327.1,349.4 L326.1,349.3 L325.1,349.6 L324.1,349.9 L323.1,349.8 L322.1,349.6 L321.1,349.7 L320.1,350.3 L319.1,350.6 L318.1,350.2 L317.1,350.2 L316.1,350.5 L315.1,350.5 L314.1,350.1 L313.1,349.9 L312.1,349.9 L311.1,350 L310.1,350 L309.1,349.6 L308.1,349.2 L307.1,349.1 L306.1,348.9 L305.1,348.6 L304.1,348.2 L303.1,348.2 L302.1,348.1 L301.1,348 L300.1,347.9 L299.1,347.6 L298.1,347.2 L297.1,346.5 L296.1,346.6 L295.1,346.8 L294.1,346.2 L293.1,345.9 L292.1,345.8 L291.1,345.4 L290.1,345 L289.1,344.6 L288.1,344.3 L287.2,344.4 L286.2,344.2 L285.2,343.7 L284.2,343.7 L283.2,343.9 L282.2,343.7 L281.2,343.3 L280.2,342.6 L279.2,342 L278.2,342 L277.2,341.7 L276.2,341.2 L275.2,341.1 L274.2,340.9 L273.2,340.5 L272.2,340.4 L271.2,340.1 L270.2,339.6 L269.2,339.4 L268.2,339.3 L267.2,338.9 L266.2,337.9 L265.2,336.9 L264.2,336.3 L263.2,335.4 L262.2,334.7 L261.2,334.5 L260.2,333.9 L259.2,332.3 L258.2,330.9 L257.2,329.5 L256.2,327.6 L255.2,325.7 L254.2,324.1 L253.2,322.5 L252.2,320.9 L251.2,319.3 L250.2,317.7 L249.2,316.7 L248.2,315.8 L247.2,314.2 L246.2,312.5 L245.2,310.8 L244.2,308.3 L243.2,304.5 L242.2,300.1 L241.2,295.6 L240.2,291.5 L239.2,287.6 L238.2,283.2 L237.2,278.6 L236.3,274.5 L235.3,271.7 L234.3,269.4 L233.3,267.4 L232.3,265.8 L231.3,264.2 L230.3,263.4 L229.3,263.7 L228.3,264.1 L227.3,264 L226.3,264.3 L225.3,264.9 L224.3,265.7 L223.3,266.4 L222.3,267.2 L221.3,268.7 L220.3,270.2 L219.3,271.2 L218.3,272.7 L217.3,274.7 L216.3,276.6 L215.3,278.1 L214.3,279.8 L213.3,281.6 L212.3,283.3 L211.3,284.9 L210.3,286.4 L209.3,287.4 L208.3,287.8 L207.3,288.4 L206.3,289.3 L205.3,289.9 L204.3,290.3 L203.3,290.1 L202.3,288.7 L201.3,286.9 L200.3,285.2 L199.3,283.7 L198.3,282.5 L197.3,281.4 L196.3,280.1 L195.3,278.6 L194.3,276.9 L193.3,275.7 L192.3,275.4 L191.3,275.3 L190.3,275.3 L189.3,276 L188.3,276.6 L187.4,276.7 L186.4,277.9 L185.4,280.2 L184.4,282.1 L183.4,283.9 L182.4,285.7 L181.4,287.3 L180.4,289.1 L179.4,291.2 L178.4,293.5 L177.4,295.5 L176.4,297.2 L175.4,299.1 L174.4,301 L173.4,302.8 L172.4,304.7 L171.4,306.4 L170.4,308.2 L169.4,309.8 L168.4,311.4 L167.4,313.2 L166.4,315 L165.4,316.7 L164.4,318.3 L163.4,320.1 L162.4,322 L161.4,323.8 L160.4,325.6 L159.4,327.2 L158.4,329.1 L157.4,330.8 L156.4,332 L155.4,333.8 L154.4,335.9 L153.4,337.8 L152.4,339.8 L151.4,340.9 L150.4,341.6 L149.4,342.1 L148.4,342.7 L147.4,343.1 L146.4,343.5 L145.4,343.6 L144.4,343.9 L143.4,344.3 L142.4,344.3 L141.4,344.4 L140.4,344.9 L139.4,345 L138.4,344.9 L137.4,344.6 L136.5,344.9 L135.5,345.5 L134.5,345.8 L133.5,345.8 L132.5,345.8 L131.5,345.9 L130.5,345.9 L129.5,345.9 L128.5,346.2 L127.5,346.6 L126.5,347 L125.5,347.5 L124.5,347.8 L123.5,348.2 L122.5,348.4 L121.5,348.4 L120.5,349.2 L119.5,350.4 L118.5,350.7 L117.5,350.8 L116.5,351.2 L115.5,351.8 L114.5,352.2 L113.5,352.6 L112.5,353 L111.5,353.2 L110.5,353.7 L109.5,354.3 L108.5,354.5 L107.5,354.8 L106.5,355.1 L105.5,355 L104.5,354.7 L103.5,355 L102.5,355.3 L101.5,354.9 L100.5,354.9 L99.5,355.3 L98.5,355.5 L97.5,355.4 L96.5,355.4 L95.5,355.6 L94.5,355.7 L93.5,355.7 L92.5,355.7 L91.5,356 L90.5,356.2 L89.5,356.4 L88.5,356.7 L87.6,356.5 L86.6,356.5 L85.6,356.8 L84.6,357.1 L83.6,357 L82.6,356.9 L81.6,356.8 L80.6,357 L79.6,357.1 L78.6,356.8 L77.6,356.6 L76.6,356.7 L75.6,356.8 L74.6,356.7 L73.6,356.8 L72.6,356.9 L71.6,357.1 L70.6,357.3 L69.6,357.4 L68.6,357.7 L67.6,357.7 L66.6,357.6 L65.6,358.1 L64.6,358.5 L63.6,358.3 L62.6,358" fill="none" stroke="#f4883c" stroke-width="1.0" stroke-linejoin="round" />
<path d="M377,353.1 L376,352.2 L375,350.8 L374,349.4 L373,347.4 L372,346.8 L371,347 L370,345.7 L369,343.7 L368,343.1 L367,343.8 L366,343.4 L365,342.9 L364,342.6 L363,341.8 L362,341.2 L361,341.1 L360,341.4 L359,341.5 L358,341.5 L357,341.9 L356,342.6 L355,343.2 L354,343.4 L353,343.9 L352,344.7 L351,345.4 L350,346.2 L349,347 L348,347.5 L347,347.9 L346,348.2 L345,348.2 L344,348.1 L343,348.1 L342,348.5 L341,348.5 L340,348.1 L339,348.4 L338,349 L337.1,349 L336.1,348.8 L335.1,348.7 L334.1,349 L333.1,349 L332.1,349.1 L331.1,349.7 L330.1,350 L329.1,349.8 L328.1,349.8 L327.1,349.8 L326.1,349.7 L325.1,349.9 L324.1,350 L323.1,349.6 L322.1,349.9 L321.1,350.7 L320.1,351 L319.1,351.3 L318.1,351.4 L317.1,351.2 L316.1,351.3 L315.1,351.4 L314.1,351.4 L313.1,351.2 L312.1,351.1 L311.1,350.9 L310.1,350.5 L309.1,350.7 L308.1,350.7 L307.1,350.2 L306.1,349.9 L305.1,349.8 L304.1,349.6 L303.1,349.3 L302.1,349.3 L301.1,349.2 L300.1,348.9 L299.1,348.9 L298.1,348.8 L297.1,348.4 L296.1,348 L295.1,347.6 L294.1,347.3 L293.1,347.2 L292.1,346.8 L291.1,346.7 L290.1,346.5 L289.1,345.8 L288.1,345.6 L287.2,345.5 L286.2,345.3 L285.2,345.4 L284.2,345.1 L283.2,344.7 L282.2,344.9 L281.2,344.4 L280.2,343.5 L279.2,343.4 L278.2,343.6 L277.2,343.1 L276.2,342.7 L275.2,342.7 L274.2,342.3 L273.2,341.9 L272.2,341.4 L271.2,340.8 L270.2,340.7 L269.2,340.4 L268.2,339.9 L267.2,339.5 L266.2,339 L265.2,338.2 L264.2,337.1 L263.2,335.5 L262.2,334.5 L261.2,334.4 L260.2,333.9 L259.2,332 L258.2,329.8 L257.2,328 L256.2,325.7 L255.2,323.6 L254.2,321.7 L253.2,319.7 L252.2,317.7 L251.2,315.6 L250.2,313.4 L249.2,310.8 L248.2,308 L247.2,305.4 L246.2,302.7 L245.2,300.1 L244.2,297.3 L243.2,293.6 L242.2,289.8 L241.2,285.9 L240.2,281.5 L239.2,276.6 L238.2,271.7 L237.2,267.2 L236.3,262.9 L235.3,259.1 L234.3,256.1 L233.3,253.5 L232.3,251.7 L231.3,250.3 L230.3,249.5 L229.3,249.5 L228.3,249 L227.3,248.9 L226.3,249.4 L225.3,249.8 L224.3,250.7 L223.3,251.9 L222.3,253.1 L221.3,254.3 L220.3,255.6 L219.3,257.6 L218.3,259.4 L217.3,260.8 L216.3,262.5 L215.3,264.5 L214.3,266.5 L213.3,268.7 L212.3,271 L211.3,272.7 L210.3,273.5 L209.3,274.8 L208.3,276.4 L207.3,277.4 L206.3,278.3 L205.3,279 L204.3,278.4 L203.3,277.1 L202.3,276.1 L201.3,275.1 L200.3,273.8 L199.3,272.2 L198.3,270.6 L197.3,268.5 L196.3,265.9 L195.3,264 L194.3,262.9 L193.3,262 L192.3,261.6 L191.3,261.3 L190.3,260.8 L189.3,261.2 L188.3,261.7 L187.4,262.4 L186.4,263.8 L185.4,264.7 L184.4,265.9 L183.4,267.9 L182.4,270.1 L181.4,272 L180.4,274.2 L179.4,276.5 L178.4,278.7 L177.4,281.3 L176.4,284.4 L175.4,286.9 L174.4,288.9 L173.4,290.9 L172.4,292.6 L171.4,294.6 L170.4,297 L169.4,298.9 L168.4,301 L167.4,303.2 L166.4,305.4 L165.4,307.6 L164.4,309.9 L163.4,312.2 L162.4,314.3 L161.4,315.8 L160.4,317.9 L159.4,320.4 L158.4,322.7 L157.4,325.2 L156.4,327.4 L155.4,329.1 L154.4,331 L153.4,333.4 L152.4,335.6 L151.4,337.5 L150.4,339.2 L149.4,340.4 L148.4,341.1 L147.4,341.6 L146.4,341.9 L145.4,342.5 L144.4,343 L143.4,343.6 L142.4,344.4 L141.4,344.6 L140.4,344.3 L139.4,344.4 L138.4,344.8 L137.4,345.2 L136.5,345.7 L135.5,345.5 L134.5,345.4 L133.5,345.5 L132.5,345.3 L131.5,345.3 L130.5,345.7 L129.5,346.3 L128.5,346.4 L127.5,346.4 L126.5,347.2 L125.5,347.7 L124.5,347.9 L123.5,348.4 L122.5,348.7 L121.5,349.1 L120.5,349.7 L119.5,350 L118.5,350.4 L117.5,351.1 L116.5,351.4 L115.5,351.7 L114.5,352.2 L113.5,352.7 L112.5,353.3 L111.5,353.9 L110.5,354.3 L109.5,354.4 L108.5,354.7 L107.5,354.8 L106.5,354.6 L105.5,354.8 L104.5,355.1 L103.5,355.1 L102.5,355.2 L101.5,355.7 L100.5,355.9 L99.5,355.7 L98.5,355.9 L97.5,356.4 L96.5,356.8 L95.5,357.2 L94.5,357.2 L93.5,356.6 L92.5,356.3 L91.5,356.5 L90.5,356.7 L89.5,356.6 L88.5,356.8 L87.6,357.3 L86.6,357.8 L85.6,357.9 L84.6,358 L83.6,358 L82.6,357.8 L81.6,358 L80.6,357.8 L79.6,357.6 L78.6,357.9 L77.6,357.7 L76.6,357.5 L75.6,357.7 L74.6,357.7 L73.6,357.9 L72.6,358.5 L71.6,358.5 L70.6,358.5 L69.6,358.3 L68.6,358 L67.6,358 L66.6,358.2 L65.6,358.3 L64.6,358 L63.6,357.7 L62.6,358" fill="none" stroke="#8c8c8c" stroke-width="1.0" stroke-linejoin="round" />
<line x1="195.5" y1="358" x2="169.8" y2="285" stroke="#333" stroke-width="0.9" />
<path d="M168.5,281.3 L167.9,286.6 L171.3,285.4 Z" fill="#333"/>
<text x="64.3" y="239.5" font-size="19.5" text-anchor="start" fill="#333" font-weight="bold">C</text>
<text x="165.5" y="280.2" font-size="11" text-anchor="start" fill="#333">i</text>
<text x="197.2" y="362.3" font-size="11" text-anchor="start" fill="#333">a</text>
<text x="133.6" y="333.6" font-size="11" text-anchor="middle" fill="#333" transform="rotate(-90 133.6 333.6)">1545</text>
<text x="190.6" y="248.9" font-size="11" text-anchor="middle" fill="#333" transform="rotate(-90 190.6 248.9)">1416</text>
<text x="229.2" y="236.2" font-size="11" text-anchor="middle" fill="#333" transform="rotate(-90 229.2 236.2)">1328</text>
<text x="278.2" y="307.6" font-size="11" text-anchor="middle" fill="#333" transform="rotate(-90 278.2 307.6)">1220</text>
<text x="361.4" y="326.2" font-size="11" text-anchor="middle" fill="#333" transform="rotate(-90 361.4 326.2)">1035</text>
<rect x="426.5" y="219" width="314.9" height="144.4" fill="none" stroke="#5e5e5e" stroke-width="1"/>
<line x1="741.4" y1="362.9" x2="743.7" y2="362.9" stroke="#5e5e5e" stroke-width="1" />
<line x1="741.4" y1="347.7" x2="744.9" y2="347.7" stroke="#5e5e5e" stroke-width="1" />
<line x1="741.4" y1="332.5" x2="743.7" y2="332.5" stroke="#5e5e5e" stroke-width="1" />
<line x1="741.4" y1="317.2" x2="744.9" y2="317.2" stroke="#5e5e5e" stroke-width="1" />
<line x1="741.4" y1="302" x2="743.7" y2="302" stroke="#5e5e5e" stroke-width="1" />
<line x1="741.4" y1="286.7" x2="744.9" y2="286.7" stroke="#5e5e5e" stroke-width="1" />
<line x1="741.4" y1="271.5" x2="743.7" y2="271.5" stroke="#5e5e5e" stroke-width="1" />
<line x1="741.4" y1="256.3" x2="744.9" y2="256.3" stroke="#5e5e5e" stroke-width="1" />
<line x1="741.4" y1="241" x2="743.7" y2="241" stroke="#5e5e5e" stroke-width="1" />
<line x1="741.4" y1="225.8" x2="744.9" y2="225.8" stroke="#5e5e5e" stroke-width="1" />
<text x="749.4" y="351.6" font-size="11" text-anchor="start" fill="#333">0,0</text>
<text x="749.4" y="321.1" font-size="11" text-anchor="start" fill="#333">0,2</text>
<text x="749.4" y="290.6" font-size="11" text-anchor="start" fill="#333">0,4</text>
<text x="749.4" y="260.2" font-size="11" text-anchor="start" fill="#333">0,6</text>
<text x="749.4" y="229.7" font-size="11" text-anchor="start" fill="#333">0,8</text>
<line x1="426.5" y1="363.4" x2="426.5" y2="367.2" stroke="#5e5e5e" stroke-width="1" />
<line x1="449" y1="363.4" x2="449" y2="365.7" stroke="#5e5e5e" stroke-width="1" />
<line x1="471.5" y1="363.4" x2="471.5" y2="367.2" stroke="#5e5e5e" stroke-width="1" />
<line x1="494" y1="363.4" x2="494" y2="365.7" stroke="#5e5e5e" stroke-width="1" />
<line x1="516.5" y1="363.4" x2="516.5" y2="367.2" stroke="#5e5e5e" stroke-width="1" />
<line x1="539" y1="363.4" x2="539" y2="365.7" stroke="#5e5e5e" stroke-width="1" />
<line x1="561.5" y1="363.4" x2="561.5" y2="367.2" stroke="#5e5e5e" stroke-width="1" />
<line x1="584" y1="363.4" x2="584" y2="365.7" stroke="#5e5e5e" stroke-width="1" />
<line x1="606.5" y1="363.4" x2="606.5" y2="367.2" stroke="#5e5e5e" stroke-width="1" />
<line x1="629" y1="363.4" x2="629" y2="365.7" stroke="#5e5e5e" stroke-width="1" />
<line x1="651.5" y1="363.4" x2="651.5" y2="367.2" stroke="#5e5e5e" stroke-width="1" />
<line x1="673.9" y1="363.4" x2="673.9" y2="365.7" stroke="#5e5e5e" stroke-width="1" />
<line x1="696.4" y1="363.4" x2="696.4" y2="367.2" stroke="#5e5e5e" stroke-width="1" />
<line x1="718.9" y1="363.4" x2="718.9" y2="365.7" stroke="#5e5e5e" stroke-width="1" />
<line x1="741.4" y1="363.4" x2="741.4" y2="367.2" stroke="#5e5e5e" stroke-width="1" />
<text x="426.5" y="380.8" font-size="11" text-anchor="middle" fill="#333">1700</text>
<text x="471.5" y="380.8" font-size="11" text-anchor="middle" fill="#333">1600</text>
<text x="516.5" y="380.8" font-size="11" text-anchor="middle" fill="#333">1500</text>
<text x="561.5" y="380.8" font-size="11" text-anchor="middle" fill="#333">1400</text>
<text x="606.5" y="380.8" font-size="11" text-anchor="middle" fill="#333">1300</text>
<text x="651.5" y="380.8" font-size="11" text-anchor="middle" fill="#333">1200</text>
<text x="696.4" y="380.8" font-size="11" text-anchor="middle" fill="#333">1100</text>
<text x="741.4" y="380.8" font-size="11" text-anchor="middle" fill="#333">1000</text>
<path d="M741.4,343.7 L740.4,343.8 L739.4,344 L738.4,344 L737.4,343.9 L736.4,343.8 L735.4,343.9 L734.4,343.9 L733.4,343.9 L732.4,344 L731.4,344 L730.4,344.1 L729.4,344.1 L728.4,344.1 L727.4,344.2 L726.4,344.2 L725.4,344.1 L724.4,344.1 L723.4,344.3 L722.4,344.5 L721.4,344.6 L720.4,344.8 L719.4,344.8 L718.4,344.8 L717.4,345 L716.4,345.1 L715.4,345.1 L714.4,345.1 L713.4,345.2 L712.4,345.4 L711.4,345.4 L710.4,345.5 L709.4,345.7 L708.4,345.8 L707.4,345.8 L706.4,345.7 L705.4,345.6 L704.4,345.7 L703.4,345.8 L702.4,346.1 L701.4,346.4 L700.4,346.4 L699.4,346.4 L698.4,346.4 L697.4,346.5 L696.4,346.7 L695.4,346.7 L694.4,346.8 L693.4,346.9 L692.4,347 L691.4,347.2 L690.4,347.3 L689.4,347.5 L688.4,347.5 L687.4,347.6 L686.4,347.6 L685.4,347.6 L684.4,347.8 L683.4,348.2 L682.4,348.4 L681.4,348.5 L680.4,348.5 L679.4,348.4 L678.4,348.4 L677.4,348.5 L676.4,348.5 L675.4,348.4 L674.4,348.3 L673.4,348.5 L672.4,348.7 L671.4,348.6 L670.4,348.5 L669.4,348.4 L668.4,348.3 L667.4,348.3 L666.4,348.5 L665.4,348.7 L664.4,348.7 L663.4,348.6 L662.4,348.6 L661.4,348.5 L660.4,348.3 L659.4,348.5 L658.4,348.7 L657.4,348.6 L656.4,348.6 L655.4,348.7 L654.4,348.6 L653.4,348.5 L652.4,348.6 L651.5,348.6 L650.5,348.6 L649.5,348.6 L648.5,348.7 L647.5,348.8 L646.5,348.7 L645.5,348.8 L644.5,349 L643.5,349.1 L642.5,349.1 L641.5,349 L640.5,349 L639.5,348.9 L638.5,348.7 L637.5,348.8 L636.5,348.9 L635.5,349 L634.5,349 L633.5,349.1 L632.5,349.3 L631.5,349.2 L630.5,349.2 L629.5,349.5 L628.5,349.6 L627.5,349.6 L626.5,349.7 L625.5,349.7 L624.5,349.7 L623.5,349.7 L622.5,349.8 L621.5,350 L620.5,350.2 L619.5,350.3 L618.5,350.1 L617.5,350.2 L616.5,350.6 L615.5,350.6 L614.5,350.6 L613.5,350.7 L612.5,350.7 L611.5,350.8 L610.5,350.8 L609.5,350.9 L608.5,351.1 L607.5,351.2 L606.5,351.2 L605.5,351.2 L604.5,351.3 L603.5,351.3 L602.5,351.4 L601.5,351.5 L600.5,351.4 L599.5,351.4 L598.5,351.3 L597.5,351.3 L596.5,351.4 L595.5,351.6 L594.5,351.7 L593.5,351.5 L592.5,351.5 L591.5,351.7 L590.5,351.6 L589.5,351.6 L588.5,351.8 L587.5,351.9 L586.5,352.1 L585.5,352.1 L584.5,352.1 L583.5,352.1 L582.5,352.4 L581.5,352.5 L580.5,352.6 L579.5,352.7 L578.5,352.8 L577.5,353.3 L576.5,353.7 L575.5,353.8 L574.5,353.6 L573.5,353.9 L572.5,354.4 L571.5,353.9 L570.5,353.3 L569.5,352.7 L568.5,351.9 L567.5,351.2 L566.5,350.6 L565.5,350.1 L564.5,349.9 L563.5,349.5 L562.5,349 L561.5,348.6 L560.5,348.2 L559.5,347.9 L558.5,347.9 L557.5,347.5 L556.5,347.1 L555.5,347 L554.5,347 L553.5,346.9 L552.5,346.7 L551.5,346.5 L550.5,346.5 L549.5,346.4 L548.5,346.5 L547.5,346.9 L546.5,347.2 L545.5,347.3 L544.5,347.7 L543.5,347.9 L542.5,348 L541.5,348.4 L540.5,348.8 L539.5,349.2 L538.5,349.5 L537.5,349.6 L536.5,350 L535.5,350.5 L534.5,350.8 L533.5,351.1 L532.5,351.4 L531.5,352 L530.5,352.6 L529.5,352.7 L528.5,352.8 L527.5,353 L526.5,353.2 L525.5,353.4 L524.5,353.6 L523.5,353.7 L522.5,353.7 L521.5,353.8 L520.5,354 L519.5,354.1 L518.5,354.2 L517.5,354.2 L516.5,354 L515.5,354 L514.5,354.2 L513.5,354.4 L512.5,354.3 L511.5,354.1 L510.5,354.2 L509.5,354.3 L508.5,354.3 L507.5,354.4 L506.5,354.5 L505.5,354.5 L504.5,354.5 L503.5,354.7 L502.5,354.7 L501.5,354.6 L500.5,354.5 L499.5,354.5 L498.5,354.6 L497.5,354.7 L496.5,354.6 L495.5,354.5 L494.5,354.4 L493.5,354.4 L492.5,354.5 L491.5,354.6 L490.5,354.6 L489.5,354.4 L488.5,354.2 L487.5,353.9 L486.5,353.5 L485.5,353 L484.5,352.7 L483.5,352.5 L482.5,352.2 L481.5,351.9 L480.5,351.5 L479.5,351.1 L478.5,350.7 L477.5,350.5 L476.5,350.2 L475.5,349.8 L474.5,349.7 L473.5,349.5 L472.5,349.3 L471.5,349.1 L470.5,349 L469.5,349 L468.5,348.9 L467.5,348.6 L466.5,348.2 L465.5,347.9 L464.5,347.9 L463.5,347.9 L462.5,347.9 L461.5,347.6 L460.5,347.3 L459.5,347.2 L458.5,347.3 L457.5,347.2 L456.5,347 L455.5,346.9 L454.5,346.8 L453.5,346.6 L452.5,346.4 L451.5,346.5 L450.5,346.5 L449.5,346.6 L448.5,346.6 L447.5,346.6 L446.5,346.4 L445.5,346.3 L444.5,346.4 L443.5,346.4 L442.5,346.3 L441.5,346.2 L440.5,346.2 L439.5,346.4 L438.5,346.4 L437.5,346.2 L436.5,346.2 L435.5,346.3 L434.5,346.3 L433.5,346.3 L432.5,346.5 L431.5,346.6 L430.5,346.5 L429.5,346.5 L428.5,346.6 L427.5,346.7 L426.5,346.7" fill="none" stroke="#a8a8a8" stroke-width="1.0" stroke-linejoin="round" />
<path d="M741.4,343.2 L740.4,343.1 L739.4,343.1 L738.4,343.2 L737.4,343.1 L736.4,343 L735.4,343 L734.4,343 L733.4,343.1 L732.4,343.2 L731.4,343.2 L730.4,343.2 L729.4,343.4 L728.4,343.4 L727.4,343.4 L726.4,343.6 L725.4,343.5 L724.4,343.5 L723.4,343.7 L722.4,343.8 L721.4,343.9 L720.4,344 L719.4,344.2 L718.4,344.5 L717.4,344.7 L716.4,344.9 L715.4,345.1 L714.4,345 L713.4,345 L712.4,345.1 L711.4,345.4 L710.4,345.6 L709.4,345.6 L708.4,345.6 L707.4,345.5 L706.4,345.7 L705.4,345.7 L704.4,345.8 L703.4,345.9 L702.4,346.3 L701.4,346.5 L700.4,346.3 L699.4,346.3 L698.4,346.4 L697.4,346.5 L696.4,346.7 L695.4,346.8 L694.4,346.7 L693.4,346.6 L692.4,346.7 L691.4,346.8 L690.4,346.9 L689.4,347 L688.4,347.1 L687.4,347.2 L686.4,347.3 L685.4,347.3 L684.4,347.4 L683.4,347.5 L682.4,347.6 L681.4,347.5 L680.4,347.6 L679.4,347.6 L678.4,347.6 L677.4,347.7 L676.4,347.7 L675.4,347.6 L674.4,347.5 L673.4,347.6 L672.4,347.4 L671.4,347.3 L670.4,347.6 L669.4,347.9 L668.4,348 L667.4,347.7 L666.4,347.5 L665.4,347.5 L664.4,347.6 L663.4,347.7 L662.4,347.8 L661.4,347.8 L660.4,347.8 L659.4,347.8 L658.4,347.7 L657.4,347.6 L656.4,347.7 L655.4,347.7 L654.4,347.6 L653.4,347.7 L652.4,347.9 L651.5,347.9 L650.5,347.7 L649.5,347.6 L648.5,347.5 L647.5,347.5 L646.5,347.4 L645.5,347.3 L644.5,347.3 L643.5,347.5 L642.5,347.5 L641.5,347.3 L640.5,347.2 L639.5,347.2 L638.5,347.1 L637.5,347.2 L636.5,347.1 L635.5,346.8 L634.5,346.6 L633.5,346.6 L632.5,346.6 L631.5,346.7 L630.5,346.7 L629.5,346.7 L628.5,346.7 L627.5,346.6 L626.5,346.4 L625.5,346.3 L624.5,346.4 L623.5,346.2 L622.5,346.1 L621.5,346.1 L620.5,346 L619.5,345.8 L618.5,345.8 L617.5,345.8 L616.5,345.6 L615.5,345.1 L614.5,344.8 L613.5,344.8 L612.5,344.8 L611.5,344.6 L610.5,344.4 L609.5,344.3 L608.5,344 L607.5,343.8 L606.5,343.7 L605.5,343.5 L604.5,342.9 L603.5,342 L602.5,341.4 L601.5,340.7 L600.5,339.9 L599.5,339.5 L598.5,339.3 L597.5,338.9 L596.5,338.6 L595.5,338.5 L594.5,338.3 L593.5,338.1 L592.5,338.3 L591.5,338.3 L590.5,338.1 L589.5,338.2 L588.5,338.2 L587.5,338.1 L586.5,338.2 L585.5,338.4 L584.5,338.7 L583.5,338.9 L582.5,339.2 L581.5,339.4 L580.5,339.6 L579.5,339.8 L578.5,340.2 L577.5,340.6 L576.5,341 L575.5,341.5 L574.5,341.9 L573.5,342.3 L572.5,342.8 L571.5,343.1 L570.5,343.2 L569.5,343.2 L568.5,342.8 L567.5,342.5 L566.5,342.1 L565.5,341.6 L564.5,340.9 L563.5,340.1 L562.5,339.4 L561.5,338.8 L560.5,338.3 L559.5,337.8 L558.5,337.3 L557.5,336.8 L556.5,336.6 L555.5,336.3 L554.5,336 L553.5,336.1 L552.5,336.4 L551.5,336.6 L550.5,336.8 L549.5,337.3 L548.5,337.6 L547.5,337.7 L546.5,338 L545.5,338.6 L544.5,339.2 L543.5,339.7 L542.5,340.1 L541.5,340.7 L540.5,341.3 L539.5,341.9 L538.5,342.5 L537.5,343.1 L536.5,343.6 L535.5,344 L534.5,344.6 L533.5,345.2 L532.5,345.8 L531.5,346.4 L530.5,346.8 L529.5,347.3 L528.5,348 L527.5,348.6 L526.5,349.1 L525.5,349.6 L524.5,350.2 L523.5,350.6 L522.5,350.8 L521.5,351.1 L520.5,351.3 L519.5,351.4 L518.5,351.6 L517.5,352 L516.5,352.3 L515.5,352.4 L514.5,352.3 L513.5,352.3 L512.5,352.3 L511.5,352.3 L510.5,352.4 L509.5,352.5 L508.5,352.6 L507.5,352.7 L506.5,352.6 L505.5,352.6 L504.5,352.7 L503.5,352.6 L502.5,352.6 L501.5,352.7 L500.5,352.7 L499.5,352.7 L498.5,352.7 L497.5,352.8 L496.5,352.9 L495.5,353 L494.5,352.9 L493.5,352.9 L492.5,353 L491.5,353.1 L490.5,352.9 L489.5,352.7 L488.5,352.6 L487.5,352.4 L486.5,352.1 L485.5,351.8 L484.5,351.4 L483.5,350.9 L482.5,350.8 L481.5,350.6 L480.5,350.1 L479.5,349.7 L478.5,349.4 L477.5,349.1 L476.5,348.9 L475.5,348.7 L474.5,348.4 L473.5,348.3 L472.5,348.3 L471.5,348.2 L470.5,348.1 L469.5,348 L468.5,347.7 L467.5,347.6 L466.5,347.5 L465.5,347.4 L464.5,347.3 L463.5,347.3 L462.5,347.2 L461.5,347.1 L460.5,347 L459.5,346.8 L458.5,346.7 L457.5,346.6 L456.5,346.7 L455.5,346.8 L454.5,346.8 L453.5,346.7 L452.5,346.5 L451.5,346.5 L450.5,346.6 L449.5,346.6 L448.5,346.5 L447.5,346.4 L446.5,346.5 L445.5,346.6 L444.5,346.7 L443.5,346.5 L442.5,346.4 L441.5,346.5 L440.5,346.5 L439.5,346.6 L438.5,346.7 L437.5,346.6 L436.5,346.6 L435.5,346.5 L434.5,346.4 L433.5,346.4 L432.5,346.5 L431.5,346.6 L430.5,346.6 L429.5,346.7 L428.5,346.7 L427.5,346.7 L426.5,346.6" fill="none" stroke="#a4a04e" stroke-width="1.0" stroke-linejoin="round" />
<path d="M741.4,342.9 L740.4,342.9 L739.4,343 L738.4,343.1 L737.4,343.3 L736.4,343.3 L735.4,343 L734.4,343.1 L733.4,343.4 L732.4,343.3 L731.4,343 L730.4,342.6 L729.4,342.4 L728.4,342.4 L727.4,342.5 L726.4,342.4 L725.4,342.4 L724.4,342.4 L723.4,342.7 L722.4,342.9 L721.4,342.9 L720.4,343.1 L719.4,343.4 L718.4,343.7 L717.4,343.9 L716.4,344 L715.4,344 L714.4,344.1 L713.4,344.4 L712.4,344.5 L711.4,344.3 L710.4,344.4 L709.4,344.8 L708.4,345.1 L707.4,345.2 L706.4,345.3 L705.4,345.6 L704.4,345.7 L703.4,345.4 L702.4,345.2 L701.4,345.6 L700.4,346 L699.4,346.1 L698.4,346 L697.4,346.1 L696.4,346.1 L695.4,345.9 L694.4,346.2 L693.4,346.5 L692.4,346.5 L691.4,346.3 L690.4,346.4 L689.4,346.8 L688.4,347.1 L687.4,346.9 L686.4,346.7 L685.4,347 L684.4,347.3 L683.4,347.2 L682.4,347.2 L681.4,347.3 L680.4,347.5 L679.4,347.6 L678.4,347.7 L677.4,347.9 L676.4,348 L675.4,348.1 L674.4,348 L673.4,347.7 L672.4,347.6 L671.4,347.6 L670.4,347.6 L669.4,347.7 L668.4,347.7 L667.4,347.6 L666.4,347.6 L665.4,347.8 L664.4,347.9 L663.4,347.7 L662.4,347.4 L661.4,347.5 L660.4,347.6 L659.4,347.7 L658.4,347.4 L657.4,347.1 L656.4,347.1 L655.4,347 L654.4,347 L653.4,346.9 L652.4,346.9 L651.5,346.8 L650.5,346.6 L649.5,346.7 L648.5,346.8 L647.5,346.8 L646.5,346.6 L645.5,346.5 L644.5,346.3 L643.5,346.2 L642.5,346 L641.5,346 L640.5,345.8 L639.5,345.5 L638.5,345.3 L637.5,345 L636.5,344.8 L635.5,344.5 L634.5,344.2 L633.5,344.1 L632.5,344.1 L631.5,344.3 L630.5,344.3 L629.5,343.9 L628.5,343.7 L627.5,343.6 L626.5,343.6 L625.5,343.5 L624.5,343.3 L623.5,343.4 L622.5,343.5 L621.5,343.2 L620.5,342.6 L619.5,342.2 L618.5,341.9 L617.5,341.5 L616.5,341 L615.5,340.6 L614.5,340.4 L613.5,340.1 L612.5,339.9 L611.5,339.6 L610.5,339 L609.5,338.3 L608.5,337.8 L607.5,337.1 L606.5,336.6 L605.5,335.9 L604.5,334.8 L603.5,333.8 L602.5,332.7 L601.5,331.5 L600.5,330.7 L599.5,329.9 L598.5,329.4 L597.5,328.7 L596.5,327.9 L595.5,327.8 L594.5,328.1 L593.5,328.2 L592.5,327.9 L591.5,327.8 L590.5,327.8 L589.5,327.7 L588.5,327.6 L587.5,327.7 L586.5,327.8 L585.5,328.1 L584.5,328.7 L583.5,329.1 L582.5,329.3 L581.5,329.8 L580.5,330.3 L579.5,330.7 L578.5,331.1 L577.5,331.3 L576.5,331.4 L575.5,331.9 L574.5,332.8 L573.5,333.4 L572.5,333.8 L571.5,334 L570.5,334.1 L569.5,333.9 L568.5,333.4 L567.5,332.9 L566.5,332.2 L565.5,331.5 L564.5,330.6 L563.5,329.7 L562.5,329.1 L561.5,328.7 L560.5,328.3 L559.5,327.8 L558.5,327.3 L557.5,326.7 L556.5,326.3 L555.5,326.1 L554.5,326.2 L553.5,326.1 L552.5,326.4 L551.5,327 L550.5,327.5 L549.5,327.9 L548.5,328.4 L547.5,329 L546.5,329.9 L545.5,330.6 L544.5,331.2 L543.5,332 L542.5,332.8 L541.5,333.5 L540.5,334.5 L539.5,335.5 L538.5,336.2 L537.5,336.9 L536.5,337.7 L535.5,338.4 L534.5,339.1 L533.5,340 L532.5,340.8 L531.5,341.7 L530.5,342.7 L529.5,343.5 L528.5,344.4 L527.5,345.6 L526.5,346.7 L525.5,347.5 L524.5,348.1 L523.5,348.6 L522.5,349 L521.5,349.4 L520.5,349.7 L519.5,349.9 L518.5,350.3 L517.5,350.5 L516.5,350.6 L515.5,350.7 L514.5,350.8 L513.5,350.9 L512.5,351.1 L511.5,351 L510.5,351.1 L509.5,351.3 L508.5,351.4 L507.5,351.4 L506.5,351.2 L505.5,351.1 L504.5,351.4 L503.5,351.7 L502.5,351.6 L501.5,351.3 L500.5,351.4 L499.5,351.5 L498.5,351.8 L497.5,352.1 L496.5,352.1 L495.5,352.1 L494.5,352 L493.5,352 L492.5,352.3 L491.5,352.3 L490.5,352.2 L489.5,352 L488.5,351.5 L487.5,351.2 L486.5,351 L485.5,350.8 L484.5,350.6 L483.5,350.4 L482.5,350.2 L481.5,349.8 L480.5,349.3 L479.5,349 L478.5,348.9 L477.5,348.8 L476.5,348.8 L475.5,348.8 L474.5,348.7 L473.5,348.6 L472.5,348.4 L471.5,348.2 L470.5,348.3 L469.5,348.3 L468.5,348 L467.5,347.7 L466.5,347.4 L465.5,347.1 L464.5,346.9 L463.5,347 L462.5,347.2 L461.5,347 L460.5,346.8 L459.5,346.9 L458.5,346.9 L457.5,346.6 L456.5,346.6 L455.5,346.7 L454.5,346.7 L453.5,346.6 L452.5,346.5 L451.5,346.5 L450.5,346.5 L449.5,346.6 L448.5,346.8 L447.5,346.7 L446.5,346.5 L445.5,346.5 L444.5,346.6 L443.5,346.5 L442.5,346.2 L441.5,346.3 L440.5,346.5 L439.5,346.4 L438.5,346.4 L437.5,346.7 L436.5,346.8 L435.5,346.7 L434.5,346.6 L433.5,346.5 L432.5,346.3 L431.5,346.5 L430.5,346.8 L429.5,346.8 L428.5,346.5 L427.5,346.4 L426.5,346.6" fill="none" stroke="#cc62c4" stroke-width="1.0" stroke-linejoin="round" />
<path d="M741.4,343.1 L740.4,342.9 L739.4,342.7 L738.4,342.6 L737.4,342.4 L736.4,342 L735.4,341.7 L734.4,341.3 L733.4,340.9 L732.4,340.9 L731.4,340.9 L730.4,340.5 L729.4,340.2 L728.4,340.1 L727.4,339.8 L726.4,339.6 L725.4,339.6 L724.4,339.6 L723.4,339.7 L722.4,340.1 L721.4,340.4 L720.4,340.6 L719.4,341.1 L718.4,341.3 L717.4,341.4 L716.4,341.8 L715.4,342.2 L714.4,342.2 L713.4,342.2 L712.4,342.6 L711.4,342.7 L710.4,342.7 L709.4,343 L708.4,343.1 L707.4,343.2 L706.4,343.1 L705.4,343.2 L704.4,343.7 L703.4,343.8 L702.4,343.9 L701.4,344 L700.4,344.1 L699.4,344.2 L698.4,344.2 L697.4,344.3 L696.4,344.3 L695.4,344.3 L694.4,344.4 L693.4,344.6 L692.4,344.5 L691.4,344.5 L690.4,344.6 L689.4,344.7 L688.4,345 L687.4,345.2 L686.4,345.2 L685.4,345.2 L684.4,345.2 L683.4,345.2 L682.4,345.3 L681.4,345.7 L680.4,345.8 L679.4,345.7 L678.4,345.8 L677.4,345.8 L676.4,345.9 L675.4,345.8 L674.4,345.7 L673.4,345.9 L672.4,346.1 L671.4,345.9 L670.4,345.7 L669.4,345.6 L668.4,345.6 L667.4,345.6 L666.4,345.7 L665.4,345.7 L664.4,345.7 L663.4,345.5 L662.4,345.6 L661.4,345.8 L660.4,345.5 L659.4,345.1 L658.4,345 L657.4,345.3 L656.4,345.2 L655.4,345 L654.4,345 L653.4,345 L652.4,344.9 L651.5,344.9 L650.5,344.9 L649.5,344.8 L648.5,344.6 L647.5,344.5 L646.5,344.4 L645.5,344.2 L644.5,343.9 L643.5,343.7 L642.5,343.7 L641.5,343.7 L640.5,343.4 L639.5,343.2 L638.5,343 L637.5,342.5 L636.5,342.1 L635.5,341.7 L634.5,341.4 L633.5,341.2 L632.5,341.1 L631.5,341.1 L630.5,341.1 L629.5,340.9 L628.5,340.6 L627.5,340.3 L626.5,340.2 L625.5,340 L624.5,339.5 L623.5,338.9 L622.5,338.5 L621.5,338 L620.5,337.5 L619.5,336.8 L618.5,336.3 L617.5,335.8 L616.5,335.4 L615.5,334.6 L614.5,333.7 L613.5,333 L612.5,332.6 L611.5,331.8 L610.5,330.5 L609.5,329.1 L608.5,328.4 L607.5,327.8 L606.5,326.7 L605.5,325.2 L604.5,323.6 L603.5,321.9 L602.5,320 L601.5,318.1 L600.5,316.5 L599.5,315.1 L598.5,314.2 L597.5,313.6 L596.5,312.9 L595.5,312.4 L594.5,312.1 L593.5,311.8 L592.5,311.8 L591.5,312.1 L590.5,312.4 L589.5,312.6 L588.5,312.8 L587.5,313.1 L586.5,313.5 L585.5,314.2 L584.5,314.9 L583.5,315.4 L582.5,315.9 L581.5,316.4 L580.5,317.3 L579.5,318.5 L578.5,319.2 L577.5,319.6 L576.5,320.3 L575.5,321 L574.5,321.2 L573.5,321.3 L572.5,321.9 L571.5,322.4 L570.5,322.5 L569.5,322.3 L568.5,321.5 L567.5,320.3 L566.5,319.1 L565.5,317.9 L564.5,316.9 L563.5,316.1 L562.5,315.4 L561.5,315 L560.5,314.6 L559.5,313.9 L558.5,313.4 L557.5,313.2 L556.5,313.1 L555.5,313.1 L554.5,313.1 L553.5,313.3 L552.5,313.5 L551.5,313.8 L550.5,314.3 L549.5,314.9 L548.5,315.5 L547.5,315.9 L546.5,316.5 L545.5,317.4 L544.5,318.6 L543.5,319.9 L542.5,321.1 L541.5,322.3 L540.5,323.2 L539.5,324.3 L538.5,325.5 L537.5,326.6 L536.5,328.1 L535.5,329.5 L534.5,330.6 L533.5,331.8 L532.5,333.3 L531.5,334.7 L530.5,335.8 L529.5,337.2 L528.5,338.7 L527.5,340.2 L526.5,341.8 L525.5,343.3 L524.5,344.5 L523.5,345.3 L522.5,345.8 L521.5,346.5 L520.5,346.9 L519.5,347.1 L518.5,347.3 L517.5,347.8 L516.5,348.3 L515.5,348.7 L514.5,349 L513.5,349.3 L512.5,349.6 L511.5,349.3 L510.5,349.1 L509.5,349.2 L508.5,349.4 L507.5,349.3 L506.5,349.5 L505.5,349.7 L504.5,349.6 L503.5,349.5 L502.5,349.5 L501.5,349.7 L500.5,349.8 L499.5,349.7 L498.5,349.7 L497.5,349.9 L496.5,349.9 L495.5,350 L494.5,350 L493.5,350 L492.5,349.9 L491.5,349.9 L490.5,350 L489.5,349.9 L488.5,349.9 L487.5,349.7 L486.5,349.5 L485.5,349.2 L484.5,348.9 L483.5,348.5 L482.5,348.4 L481.5,348.4 L480.5,348.6 L479.5,348.7 L478.5,348.2 L477.5,347.9 L476.5,347.8 L475.5,347.6 L474.5,347.6 L473.5,347.8 L472.5,347.7 L471.5,347.5 L470.5,347.6 L469.5,347.7 L468.5,347.6 L467.5,347.4 L466.5,347.2 L465.5,347 L464.5,346.9 L463.5,346.8 L462.5,346.7 L461.5,346.5 L460.5,346.7 L459.5,346.9 L458.5,347 L457.5,347.1 L456.5,346.9 L455.5,346.7 L454.5,346.7 L453.5,346.6 L452.5,346.8 L451.5,346.9 L450.5,346.5 L449.5,346.5 L448.5,346.5 L447.5,346.3 L446.5,346.2 L445.5,346.4 L444.5,346.6 L443.5,346.4 L442.5,346.4 L441.5,346.5 L440.5,346.5 L439.5,346.4 L438.5,346.4 L437.5,346.4 L436.5,346.3 L435.5,346.2 L434.5,346.2 L433.5,346.3 L432.5,346.4 L431.5,346.6 L430.5,346.7 L429.5,346.6 L428.5,346.6 L427.5,346.5 L426.5,346.4" fill="none" stroke="#3cbcbc" stroke-width="1.0" stroke-linejoin="round" />
<path d="M741.4,342.5 L740.4,342.1 L739.4,341.3 L738.4,341 L737.4,340.9 L736.4,340.7 L735.4,340.3 L734.4,339.9 L733.4,339.6 L732.4,339.2 L731.4,338.6 L730.4,338.2 L729.4,338.1 L728.4,337.9 L727.4,337.7 L726.4,337.4 L725.4,337.1 L724.4,337.1 L723.4,337.3 L722.4,337.7 L721.4,338 L720.4,338.3 L719.4,338.6 L718.4,338.8 L717.4,339 L716.4,339.3 L715.4,339.5 L714.4,339.9 L713.4,340.3 L712.4,340.4 L711.4,340.6 L710.4,340.9 L709.4,341.1 L708.4,341.3 L707.4,341.6 L706.4,341.8 L705.4,342 L704.4,341.9 L703.4,342.1 L702.4,342.4 L701.4,342.4 L700.4,342.2 L699.4,342.3 L698.4,342.3 L697.4,342.5 L696.4,342.4 L695.4,342.3 L694.4,342.6 L693.4,342.7 L692.4,342.6 L691.4,342.7 L690.4,343 L689.4,343.2 L688.4,343.3 L687.4,343.3 L686.4,343.5 L685.4,343.2 L684.4,343.2 L683.4,343.6 L682.4,343.7 L681.4,343.6 L680.4,343.6 L679.4,343.6 L678.4,343.9 L677.4,344.4 L676.4,344.6 L675.4,344.1 L674.4,343.8 L673.4,343.9 L672.4,343.9 L671.4,344 L670.4,343.9 L669.4,343.8 L668.4,343.9 L667.4,343.9 L666.4,343.9 L665.4,343.9 L664.4,343.8 L663.4,343.7 L662.4,343.6 L661.4,343.6 L660.4,343.7 L659.4,343.7 L658.4,343.3 L657.4,343.2 L656.4,343 L655.4,342.9 L654.4,343 L653.4,342.9 L652.4,342.6 L651.5,342.6 L650.5,342.8 L649.5,342.8 L648.5,342.6 L647.5,342.6 L646.5,342.5 L645.5,342.1 L644.5,341.9 L643.5,341.8 L642.5,341.6 L641.5,341.3 L640.5,340.6 L639.5,340.2 L638.5,339.9 L637.5,339.6 L636.5,339.5 L635.5,339.3 L634.5,339 L633.5,338.7 L632.5,338.2 L631.5,337.7 L630.5,337.4 L629.5,337 L628.5,336.4 L627.5,336 L626.5,335.9 L625.5,335.6 L624.5,335.1 L623.5,334.5 L622.5,333.4 L621.5,332.4 L620.5,331.6 L619.5,330.7 L618.5,329.9 L617.5,329.1 L616.5,328.1 L615.5,326.9 L614.5,325.6 L613.5,324.1 L612.5,322.8 L611.5,321.2 L610.5,319 L609.5,316.6 L608.5,314.5 L607.5,312.7 L606.5,310.7 L605.5,308.4 L604.5,305.7 L603.5,303 L602.5,300.8 L601.5,299.4 L600.5,298.2 L599.5,296.7 L598.5,295.3 L597.5,294.2 L596.5,293.1 L595.5,292.1 L594.5,291.5 L593.5,291.3 L592.5,291.3 L591.5,291.6 L590.5,292 L589.5,292.7 L588.5,293.5 L587.5,293.6 L586.5,294 L585.5,295.3 L584.5,296.5 L583.5,297.3 L582.5,298.1 L581.5,299.2 L580.5,300.5 L579.5,301.7 L578.5,302.8 L577.5,303.7 L576.5,304.6 L575.5,305.4 L574.5,305.8 L573.5,306.3 L572.5,307.1 L571.5,307.8 L570.5,307.7 L569.5,307.4 L568.5,307.3 L567.5,307 L566.5,306 L565.5,304.6 L564.5,303 L563.5,301.4 L562.5,300.1 L561.5,299.4 L560.5,298.6 L559.5,297.9 L558.5,297.4 L557.5,296.9 L556.5,296.5 L555.5,296.3 L554.5,296.4 L553.5,296.3 L552.5,296.4 L551.5,296.8 L550.5,297.5 L549.5,298.4 L548.5,299.5 L547.5,300.5 L546.5,301.6 L545.5,303.2 L544.5,305.1 L543.5,307 L542.5,309 L541.5,310.8 L540.5,312.3 L539.5,314.2 L538.5,316 L537.5,317.4 L536.5,318.7 L535.5,320 L534.5,321.2 L533.5,322.5 L532.5,323.7 L531.5,325 L530.5,326.5 L529.5,328 L528.5,329.6 L527.5,331.3 L526.5,333.2 L525.5,334.8 L524.5,336.3 L523.5,337.8 L522.5,339.2 L521.5,340.4 L520.5,341.6 L519.5,342.6 L518.5,343.4 L517.5,344.4 L516.5,345.1 L515.5,345.4 L514.5,345.6 L513.5,345.8 L512.5,346.3 L511.5,346.7 L510.5,346.4 L509.5,346.3 L508.5,346.5 L507.5,347.1 L506.5,347.5 L505.5,347.5 L504.5,347.5 L503.5,347.7 L502.5,347.7 L501.5,347.6 L500.5,347.4 L499.5,347.7 L498.5,347.8 L497.5,347.4 L496.5,347.5 L495.5,347.6 L494.5,347.3 L493.5,347.5 L492.5,347.6 L491.5,347.3 L490.5,347.1 L489.5,347.4 L488.5,347.7 L487.5,347.8 L486.5,347.7 L485.5,347.4 L484.5,347.1 L483.5,347.2 L482.5,347.2 L481.5,347.1 L480.5,347.1 L479.5,347.3 L478.5,347.2 L477.5,347 L476.5,346.9 L475.5,347 L474.5,346.9 L473.5,346.7 L472.5,346.6 L471.5,346.6 L470.5,346.6 L469.5,346.7 L468.5,346.9 L467.5,346.9 L466.5,347.1 L465.5,347.3 L464.5,347 L463.5,346.5 L462.5,346.7 L461.5,346.9 L460.5,346.7 L459.5,346.5 L458.5,346.5 L457.5,346.6 L456.5,346.7 L455.5,346.6 L454.5,346.5 L453.5,346.5 L452.5,346.5 L451.5,346.4 L450.5,346.6 L449.5,346.8 L448.5,346.8 L447.5,346.6 L446.5,346.3 L445.5,346.3 L444.5,346.4 L443.5,346.3 L442.5,346.3 L441.5,346.3 L440.5,346.3 L439.5,346.4 L438.5,346.9 L437.5,346.9 L436.5,346.6 L435.5,346.2 L434.5,346.2 L433.5,346.3 L432.5,346.5 L431.5,346.5 L430.5,346.5 L429.5,346.7 L428.5,346.9 L427.5,346.9 L426.5,346.7" fill="none" stroke="#5252a8" stroke-width="1.0" stroke-linejoin="round" />
<path d="M741.4,341.8 L740.4,340.7 L739.4,339.7 L738.4,338.9 L737.4,338.3 L736.4,338.1 L735.4,337.8 L734.4,337 L733.4,336.2 L732.4,335.7 L731.4,335.6 L730.4,335.1 L729.4,334.2 L728.4,333.9 L727.4,333.8 L726.4,333.8 L725.4,333.7 L724.4,333.4 L723.4,333.7 L722.4,334.4 L721.4,335 L720.4,335.4 L719.4,335.8 L718.4,336.1 L717.4,336.6 L716.4,336.8 L715.4,336.9 L714.4,337.5 L713.4,337.7 L712.4,337.6 L711.4,338 L710.4,338.4 L709.4,338.3 L708.4,338.5 L707.4,338.9 L706.4,339.1 L705.4,339.3 L704.4,339.1 L703.4,339.1 L702.4,339.6 L701.4,339.7 L700.4,339.5 L699.4,339.5 L698.4,339.9 L697.4,340.4 L696.4,340.4 L695.4,340.3 L694.4,340.5 L693.4,341.1 L692.4,341.1 L691.4,340.8 L690.4,340.8 L689.4,341 L688.4,341.2 L687.4,341.3 L686.4,341.6 L685.4,341.9 L684.4,341.8 L683.4,341.8 L682.4,342.2 L681.4,342.4 L680.4,342.2 L679.4,341.9 L678.4,341.7 L677.4,341.7 L676.4,341.8 L675.4,342.1 L674.4,342.1 L673.4,341.8 L672.4,341.9 L671.4,342.1 L670.4,342.1 L669.4,342.1 L668.4,342.2 L667.4,342.1 L666.4,341.9 L665.4,341.8 L664.4,341.5 L663.4,341.3 L662.4,341.2 L661.4,341.4 L660.4,341.5 L659.4,341.4 L658.4,341.4 L657.4,341.2 L656.4,340.9 L655.4,340.9 L654.4,340.8 L653.4,340.9 L652.4,340.8 L651.5,340.2 L650.5,340.2 L649.5,340 L648.5,339.4 L647.5,339.3 L646.5,339.1 L645.5,338.8 L644.5,338.9 L643.5,338.8 L642.5,338.1 L641.5,337.8 L640.5,337.9 L639.5,337.8 L638.5,337.2 L637.5,336.3 L636.5,335.5 L635.5,335 L634.5,334.7 L633.5,334.6 L632.5,334.5 L631.5,333.7 L630.5,332.7 L629.5,331.8 L628.5,331.2 L627.5,330.5 L626.5,329.6 L625.5,328.6 L624.5,327.5 L623.5,326.2 L622.5,325.4 L621.5,324.8 L620.5,323.8 L619.5,322.3 L618.5,321 L617.5,319.9 L616.5,318.7 L615.5,317.1 L614.5,315 L613.5,313 L612.5,311.1 L611.5,308.7 L610.5,305.6 L609.5,302.5 L608.5,299.8 L607.5,296.8 L606.5,293.7 L605.5,290.9 L604.5,288.7 L603.5,286.2 L602.5,283.2 L601.5,280.4 L600.5,278.1 L599.5,276.4 L598.5,275.1 L597.5,273.3 L596.5,271.6 L595.5,270.1 L594.5,269.3 L593.5,269.4 L592.5,269.8 L591.5,270.2 L590.5,270.7 L589.5,271.5 L588.5,272.3 L587.5,273.3 L586.5,274.5 L585.5,275.9 L584.5,277.2 L583.5,278.4 L582.5,279.3 L581.5,279.6 L580.5,280.5 L579.5,282.4 L578.5,283.5 L577.5,283.8 L576.5,284.7 L575.5,286.4 L574.5,287.6 L573.5,288.1 L572.5,289.3 L571.5,290.9 L570.5,291.7 L569.5,291.7 L568.5,290.9 L567.5,289.6 L566.5,287.8 L565.5,286.4 L564.5,285.1 L563.5,283.2 L562.5,281.2 L561.5,279.6 L560.5,278.7 L559.5,278.8 L558.5,278.5 L557.5,278 L556.5,277.7 L555.5,277.4 L554.5,277.2 L553.5,277.2 L552.5,277.8 L551.5,278.5 L550.5,279.4 L549.5,281.1 L548.5,282.8 L547.5,284.3 L546.5,286 L545.5,286.9 L544.5,288.1 L543.5,290 L542.5,291.9 L541.5,293.9 L540.5,295.7 L539.5,297.2 L538.5,299 L537.5,300.9 L536.5,302.8 L535.5,304.9 L534.5,306.7 L533.5,308.6 L532.5,310.7 L531.5,312.8 L530.5,315 L529.5,317.4 L528.5,319.6 L527.5,321 L526.5,322.5 L525.5,324.5 L524.5,326.5 L523.5,328.1 L522.5,329.8 L521.5,331.6 L520.5,333.6 L519.5,335.6 L518.5,337.2 L517.5,338.5 L516.5,339.6 L515.5,340.8 L514.5,341.4 L513.5,341.6 L512.5,341.9 L511.5,342.3 L510.5,342.4 L509.5,342.3 L508.5,342.9 L507.5,343.4 L506.5,343.4 L505.5,343.6 L504.5,343.8 L503.5,343.8 L502.5,343.9 L501.5,343.9 L500.5,343.7 L499.5,344 L498.5,344.4 L497.5,344.4 L496.5,344.5 L495.5,344.7 L494.5,344.9 L493.5,344.9 L492.5,344.8 L491.5,344.8 L490.5,344.7 L489.5,344.6 L488.5,345 L487.5,345.1 L486.5,345.1 L485.5,345.3 L484.5,345.5 L483.5,345.8 L482.5,346 L481.5,345.5 L480.5,345.2 L479.5,345.6 L478.5,345.7 L477.5,345.8 L476.5,346 L475.5,345.9 L474.5,345.7 L473.5,345.8 L472.5,345.8 L471.5,345.7 L470.5,346 L469.5,346.2 L468.5,346.2 L467.5,346.2 L466.5,345.9 L465.5,345.7 L464.5,346.2 L463.5,346.5 L462.5,346.1 L461.5,346 L460.5,346.4 L459.5,346.6 L458.5,346.5 L457.5,346.3 L456.5,346.3 L455.5,346.4 L454.5,346.6 L453.5,346.5 L452.5,346.4 L451.5,346.4 L450.5,346.6 L449.5,347 L448.5,346.8 L447.5,346.2 L446.5,346.1 L445.5,346.3 L444.5,346.4 L443.5,346.4 L442.5,346.4 L441.5,346.5 L440.5,346.4 L439.5,346.5 L438.5,346.6 L437.5,346.5 L436.5,346.8 L435.5,347.2 L434.5,347.1 L433.5,346.5 L432.5,346.2 L431.5,346.5 L430.5,346.8 L429.5,346.7 L428.5,346.4 L427.5,346.3 L426.5,346.3" fill="none" stroke="#48aa64" stroke-width="1.0" stroke-linejoin="round" />
<path d="M741.4,339.2 L740.4,338.3 L739.4,337.4 L738.4,336.4 L737.4,335.5 L736.4,334.8 L735.4,334.3 L734.4,333.9 L733.4,333.5 L732.4,332.7 L731.4,332 L730.4,331.8 L729.4,331.6 L728.4,331 L727.4,330.2 L726.4,330.1 L725.4,330.4 L724.4,330.4 L723.4,330.3 L722.4,330.7 L721.4,331.3 L720.4,331.7 L719.4,332.1 L718.4,332.9 L717.4,333.6 L716.4,334 L715.4,334.4 L714.4,335.1 L713.4,335.3 L712.4,335.2 L711.4,335.2 L710.4,335.6 L709.4,335.9 L708.4,336.2 L707.4,336.7 L706.4,337 L705.4,337.1 L704.4,337.2 L703.4,337.6 L702.4,337.6 L701.4,337.5 L700.4,338 L699.4,338.5 L698.4,338.1 L697.4,338 L696.4,338.6 L695.4,338.9 L694.4,338.9 L693.4,338.6 L692.4,338.4 L691.4,338.7 L690.4,339 L689.4,339 L688.4,339.2 L687.4,339.4 L686.4,339.5 L685.4,339.8 L684.4,339.7 L683.4,339.3 L682.4,339.4 L681.4,339.7 L680.4,339.9 L679.4,340.1 L678.4,340.1 L677.4,340 L676.4,340 L675.4,340.3 L674.4,340.3 L673.4,340 L672.4,339.7 L671.4,339.8 L670.4,340.3 L669.4,340.4 L668.4,340.1 L667.4,339.6 L666.4,339.7 L665.4,340.3 L664.4,340.5 L663.4,340 L662.4,339.4 L661.4,339.3 L660.4,339.5 L659.4,339.3 L658.4,339.1 L657.4,339.1 L656.4,338.7 L655.4,338.2 L654.4,338.1 L653.4,338.1 L652.4,338.5 L651.5,338.6 L650.5,337.9 L649.5,337.4 L648.5,337.3 L647.5,337.5 L646.5,337.7 L645.5,337.4 L644.5,337.1 L643.5,336.8 L642.5,336.2 L641.5,335.7 L640.5,335.5 L639.5,335.4 L638.5,334.8 L637.5,333.6 L636.5,332.8 L635.5,331.9 L634.5,331 L633.5,330.5 L632.5,329.8 L631.5,329.2 L630.5,328.5 L629.5,327.5 L628.5,326.6 L627.5,326 L626.5,325.3 L625.5,324.2 L624.5,322.9 L623.5,321.4 L622.5,319.8 L621.5,318.4 L620.5,317.1 L619.5,315.2 L618.5,313.1 L617.5,311.5 L616.5,309.8 L615.5,307.5 L614.5,305 L613.5,302.5 L612.5,299.6 L611.5,296.2 L610.5,291.6 L609.5,286.6 L608.5,282.2 L607.5,278.5 L606.5,274.9 L605.5,270.9 L604.5,267.1 L603.5,263.7 L602.5,260.9 L601.5,258.1 L600.5,255.3 L599.5,253 L598.5,251.3 L597.5,249.6 L596.5,248.1 L595.5,247.1 L594.5,246.4 L593.5,245.8 L592.5,245.7 L591.5,246.3 L590.5,247.3 L589.5,248.3 L588.5,249.4 L587.5,250.8 L586.5,252.2 L585.5,252.4 L584.5,252.9 L583.5,255.4 L582.5,257.1 L581.5,257.7 L580.5,262.9 L579.5,268 L578.5,267.5 L577.5,266.6 L576.5,274.2 L575.5,273 L574.5,271.4 L573.5,273.2 L572.5,274.7 L571.5,270.2 L570.5,274.4 L569.5,273.8 L568.5,272 L567.5,270.5 L566.5,268.8 L565.5,267.3 L564.5,264.8 L563.5,262.6 L562.5,261.4 L561.5,260.4 L560.5,259.5 L559.5,258.8 L558.5,258 L557.5,257.6 L556.5,257.7 L555.5,257.4 L554.5,257.4 L553.5,258.4 L552.5,259.2 L551.5,259.4 L550.5,260.2 L549.5,261.8 L548.5,263.4 L547.5,264.9 L546.5,266.5 L545.5,268.3 L544.5,270.4 L543.5,272.9 L542.5,275.4 L541.5,277.9 L540.5,280.3 L539.5,282.2 L538.5,284 L537.5,286.2 L536.5,288.1 L535.5,290.3 L534.5,292.7 L533.5,294.7 L532.5,296.8 L531.5,299 L530.5,301.6 L529.5,304.2 L528.5,306.7 L527.5,309 L526.5,311.4 L525.5,313.6 L524.5,315.3 L523.5,317.1 L522.5,319.1 L521.5,321.3 L520.5,323.5 L519.5,325.8 L518.5,327.6 L517.5,328.8 L516.5,330.2 L515.5,331.2 L514.5,331.6 L513.5,332.2 L512.5,333.1 L511.5,333.8 L510.5,334.6 L509.5,335.3 L508.5,335.5 L507.5,336.1 L506.5,336.8 L505.5,336.8 L504.5,336.9 L503.5,337.5 L502.5,337.7 L501.5,337.6 L500.5,337.9 L499.5,337.8 L498.5,337.3 L497.5,337.3 L496.5,337.9 L495.5,338.3 L494.5,338.6 L493.5,338.8 L492.5,338.6 L491.5,338.4 L490.5,338.2 L489.5,338.5 L488.5,339.1 L487.5,339.5 L486.5,340 L485.5,340.7 L484.5,341 L483.5,341.7 L482.5,342.1 L481.5,342.3 L480.5,342.7 L479.5,342.9 L478.5,343 L477.5,343.5 L476.5,344 L475.5,343.9 L474.5,344 L473.5,344.6 L472.5,345.2 L471.5,345.4 L470.5,345.4 L469.5,345.4 L468.5,345.3 L467.5,345.1 L466.5,345.2 L465.5,345.7 L464.5,346 L463.5,346 L462.5,346 L461.5,346 L460.5,346.1 L459.5,346.2 L458.5,346 L457.5,346 L456.5,345.9 L455.5,346 L454.5,346.6 L453.5,346.8 L452.5,346.3 L451.5,346.1 L450.5,346.4 L449.5,346.6 L448.5,346.6 L447.5,346.7 L446.5,346.9 L445.5,346.7 L444.5,346.3 L443.5,346.4 L442.5,346.6 L441.5,346.4 L440.5,346.6 L439.5,346.8 L438.5,346.8 L437.5,346.7 L436.5,346.6 L435.5,346.4 L434.5,346.4 L433.5,346.8 L432.5,346.9 L431.5,346.8 L430.5,346.9 L429.5,346.8 L428.5,346.6 L427.5,346.6 L426.5,346.5" fill="none" stroke="#ec4c34" stroke-width="1.0" stroke-linejoin="round" />
<path d="M741.4,340.5 L740.4,339.8 L739.4,339 L738.4,338.1 L737.4,337.3 L736.4,336.7 L735.4,336.2 L734.4,335.5 L733.4,334.6 L732.4,333.9 L731.4,333.3 L730.4,332.8 L729.4,332.4 L728.4,332.2 L727.4,332.1 L726.4,331.9 L725.4,331.7 L724.4,331.7 L723.4,332 L722.4,332.5 L721.4,332.9 L720.4,333.2 L719.4,333.6 L718.4,334 L717.4,334.4 L716.4,334.9 L715.4,335.3 L714.4,335.6 L713.4,335.8 L712.4,335.9 L711.4,336.1 L710.4,336.4 L709.4,336.6 L708.4,336.9 L707.4,337 L706.4,337.1 L705.4,337.2 L704.4,337.4 L703.4,337.6 L702.4,337.8 L701.4,337.9 L700.4,338 L699.4,338.1 L698.4,338.2 L697.4,338.3 L696.4,338.3 L695.4,338.5 L694.4,338.6 L693.4,338.6 L692.4,338.8 L691.4,339 L690.4,339.1 L689.4,339.2 L688.4,339.1 L687.4,339.3 L686.4,339.5 L685.4,339.5 L684.4,339.7 L683.4,339.8 L682.4,339.8 L681.4,339.8 L680.4,339.8 L679.4,339.8 L678.4,339.9 L677.4,340 L676.4,340.1 L675.4,340 L674.4,340 L673.4,340.1 L672.4,340.1 L671.4,340 L670.4,339.9 L669.4,340 L668.4,339.9 L667.4,339.9 L666.4,339.8 L665.4,339.8 L664.4,339.7 L663.4,339.6 L662.4,339.4 L661.4,339.3 L660.4,339.3 L659.4,339.2 L658.4,339 L657.4,338.8 L656.4,338.7 L655.4,338.7 L654.4,338.5 L653.4,338.4 L652.4,338.2 L651.5,338 L650.5,337.8 L649.5,337.6 L648.5,337.4 L647.5,337.1 L646.5,336.9 L645.5,336.6 L644.5,336.3 L643.5,336 L642.5,335.6 L641.5,335.3 L640.5,334.8 L639.5,334.2 L638.5,333.5 L637.5,333 L636.5,332.4 L635.5,331.7 L634.5,331.1 L633.5,330.5 L632.5,329.9 L631.5,329.2 L630.5,328.3 L629.5,327.5 L628.5,326.7 L627.5,325.6 L626.5,324.4 L625.5,323.3 L624.5,322.1 L623.5,320.8 L622.5,319.5 L621.5,318.2 L620.5,316.6 L619.5,314.9 L618.5,313.1 L617.5,311.2 L616.5,309.2 L615.5,307 L614.5,304.6 L613.5,301.7 L612.5,298.6 L611.5,295.2 L610.5,291.1 L609.5,286.1 L608.5,281.5 L607.5,277.2 L606.5,272.9 L605.5,268.8 L604.5,265 L603.5,261.4 L602.5,258.1 L601.5,254.9 L600.5,251.9 L599.5,249.3 L598.5,247.4 L597.5,245.4 L596.5,243.5 L595.5,242 L594.5,241 L593.5,240.6 L592.5,240.8 L591.5,241.3 L590.5,242 L589.5,242.9 L588.5,243.8 L587.5,244.8 L586.5,245.8 L585.5,247 L584.5,248.2 L583.5,249.6 L582.5,251 L581.5,252.6 L580.5,254.4 L579.5,256.6 L578.5,258.9 L577.5,261.1 L576.5,263.1 L575.5,264.7 L574.5,266.1 L573.5,267.5 L572.5,268.7 L571.5,269.6 L570.5,270 L569.5,270 L568.5,269.6 L567.5,269 L566.5,268.3 L565.5,267.3 L564.5,265.3 L563.5,262.8 L562.5,260.3 L561.5,258.6 L560.5,257.2 L559.5,256 L558.5,254.9 L557.5,253.8 L556.5,253 L555.5,252.5 L554.5,252.3 L553.5,252.4 L552.5,253.2 L551.5,254.3 L550.5,255.6 L549.5,257.2 L548.5,258.6 L547.5,260.1 L546.5,261.7 L545.5,263.6 L544.5,265.6 L543.5,267.8 L542.5,270 L541.5,272.2 L540.5,274.5 L539.5,276.7 L538.5,278.9 L537.5,281.2 L536.5,283.6 L535.5,285.9 L534.5,288.2 L533.5,290.5 L532.5,292.9 L531.5,295.3 L530.5,297.8 L529.5,300.3 L528.5,302.9 L527.5,305.5 L526.5,308.2 L525.5,310.8 L524.5,313.1 L523.5,315 L522.5,316.9 L521.5,318.6 L520.5,320.2 L519.5,321.8 L518.5,323.3 L517.5,324.6 L516.5,325.7 L515.5,326.8 L514.5,327.9 L513.5,328.7 L512.5,329.5 L511.5,330.2 L510.5,330.8 L509.5,331.3 L508.5,331.9 L507.5,332.4 L506.5,332.8 L505.5,333.2 L504.5,333.6 L503.5,333.7 L502.5,333.8 L501.5,334 L500.5,334.2 L499.5,334.3 L498.5,334.4 L497.5,334.7 L496.5,335 L495.5,335.1 L494.5,335.1 L493.5,335.2 L492.5,335.5 L491.5,335.6 L490.5,335.8 L489.5,336.2 L488.5,336.7 L487.5,337.4 L486.5,338.2 L485.5,339 L484.5,339.8 L483.5,340.5 L482.5,341 L481.5,341.4 L480.5,341.8 L479.5,342.2 L478.5,342.6 L477.5,343 L476.5,343.4 L475.5,343.7 L474.5,343.9 L473.5,344.2 L472.5,344.4 L471.5,344.6 L470.5,344.8 L469.5,344.9 L468.5,345.1 L467.5,345.3 L466.5,345.3 L465.5,345.5 L464.5,345.6 L463.5,345.8 L462.5,345.9 L461.5,345.9 L460.5,346 L459.5,346.1 L458.5,346.2 L457.5,346.3 L456.5,346.4 L455.5,346.4 L454.5,346.4 L453.5,346.5 L452.5,346.5 L451.5,346.4 L450.5,346.5 L449.5,346.5 L448.5,346.4 L447.5,346.4 L446.5,346.5 L445.5,346.5 L444.5,346.6 L443.5,346.7 L442.5,346.7 L441.5,346.5 L440.5,346.5 L439.5,346.6 L438.5,346.6 L437.5,346.7 L436.5,346.7 L435.5,346.7 L434.5,346.6 L433.5,346.5 L432.5,346.5 L431.5,346.5 L430.5,346.5 L429.5,346.6 L428.5,346.5 L427.5,346.6 L426.5,346.7" fill="none" stroke="#303030" stroke-width="1.0" stroke-linejoin="round" />
<line x1="541.9" y1="259.7" x2="554.1" y2="351" stroke="#333" stroke-width="0.9" />
<path d="M554.6,354.8 L552.8,350.4 L556.0,350.0 Z" fill="#333"/>
<line x1="471.8" y1="356.3" x2="500" y2="354.4" stroke="#777" stroke-width="0.9" />
<line x1="613.2" y1="358.2" x2="576.1" y2="354.8" stroke="#555" stroke-width="0.9" />
<text x="471.4" y="360.8" font-size="11" text-anchor="end" fill="#333">1520</text>
<text x="614.2" y="361.5" font-size="11" text-anchor="start" fill="#333">1370</text>
<text x="537" y="259.5" font-size="11" text-anchor="start" fill="#333">a</text>
<text x="557.2" y="360.8" font-size="11" text-anchor="start" fill="#333">h</text>
<text x="721.6" y="244.7" font-size="19.5" text-anchor="start" fill="#333" font-weight="bold">D</text>
<text x="784.6" y="287" font-size="13.5" text-anchor="middle" fill="#333" transform="rotate(-90 784.6 287)">Absorbance</text>
<text x="29" y="288.1" font-size="13.5" text-anchor="middle" fill="#333" transform="rotate(-90 29 288.1)">Absorbance</text>
<text x="198.5" y="402.6" font-size="13.6" text-anchor="middle" fill="#333">Wavenumbers [cm<tspan font-size="7.8" dy="-5.6">-1</tspan><tspan dy="5.6">]</tspan></text>
<text x="578" y="403" font-size="13.6" text-anchor="middle" fill="#333">Wavenumbers [cm<tspan font-size="7.8" dy="-5.6">-1</tspan><tspan dy="5.6">]</tspan></text>
</svg>
</body></html>
